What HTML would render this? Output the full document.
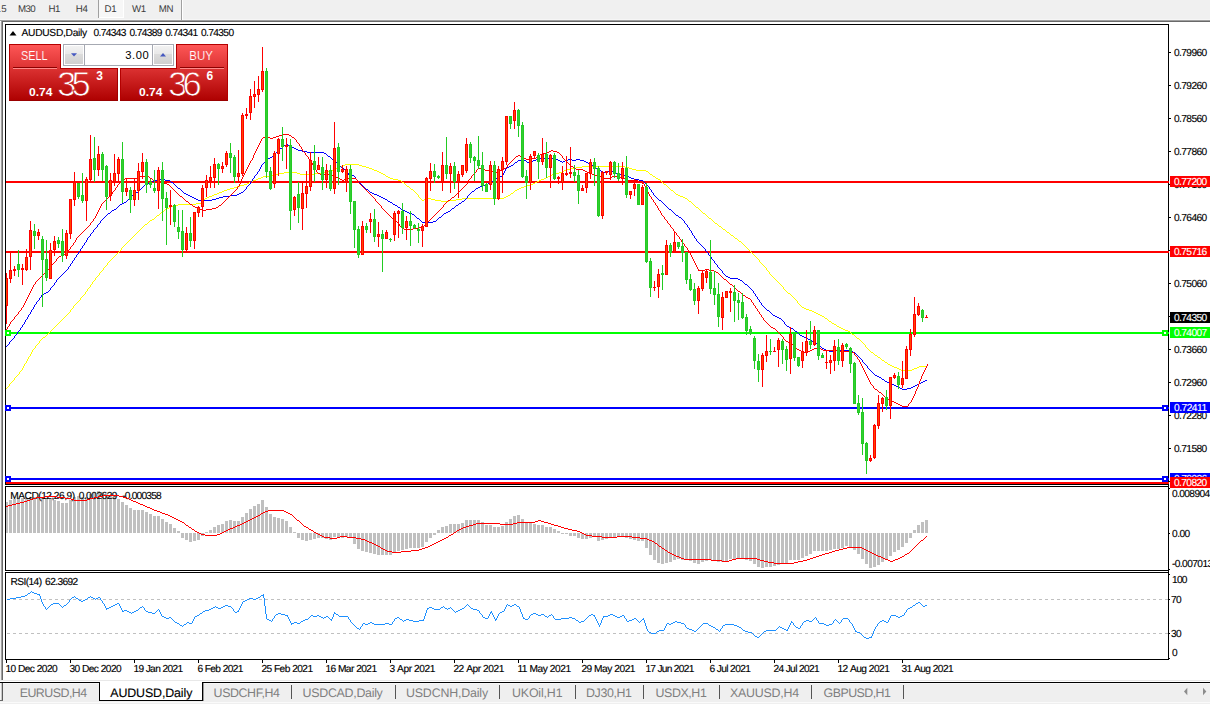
<!DOCTYPE html>
<html><head><meta charset="utf-8"><title>AUDUSD,Daily</title>
<style>
html,body{margin:0;padding:0;}
body{width:1210px;height:704px;overflow:hidden;background:#fff;position:relative;font-family:"Liberation Sans",sans-serif;}
.t{position:absolute;white-space:nowrap;line-height:1;text-rendering:geometricPrecision;-webkit-text-stroke:0.14px currentColor;}
.abs{position:absolute;}
#tb{left:0;top:0;width:1210px;height:20px;background:#f0f0f0;}
#tabs{left:0;top:683px;width:1210px;height:21px;background:#ececec;}
.tab{position:absolute;top:683px;height:18px;font-size:12.5px;line-height:18px;color:#808080;white-space:nowrap;}
</style></head><body>

<div class="abs" id="tb"></div>
<div class="abs" style="left:0;top:19px;width:1210px;height:1px;background:#f6f6f6"></div>
<div class="abs" style="left:0;top:20px;width:1210px;height:1px;background:#a0a0a0"></div>
<div class="abs" style="left:2px;top:21px;width:1208px;height:1px;background:#696969"></div>
<div class="abs" style="left:99px;top:0;width:25px;height:18px;background:#fff"></div>
<div class="abs" style="left:99px;top:0;width:24px;height:17px;background:#f7f7f7"></div>
<div class="abs" style="left:98px;top:0;width:1px;height:18px;background:#a0a0a0"></div>
<div class="abs" style="left:181px;top:0;width:1px;height:20px;background:#a0a0a0"></div>
<div class="abs" style="left:182px;top:0;width:1px;height:20px;background:#fff"></div>
<div class="abs" style="left:0;top:22px;width:1px;height:659px;background:#f0f0f0"></div>
<div class="abs" style="left:1px;top:20px;width:1px;height:661px;background:#a0a0a0"></div>
<div class="abs" style="left:2px;top:21px;width:1px;height:660px;background:#696969"></div>
<div class="abs" style="left:0;top:680px;width:1210px;height:1px;background:#e8e8e8"></div>
<div class="abs" style="left:0;top:683px;width:1210px;height:21px;background:#efefef"></div>
<div class="abs" style="left:0;top:683px;width:1210px;height:1px;background:#f7f7f7"></div>
<div class="abs" style="left:0;top:702px;width:1210px;height:1px;background:#fafafa"></div>
<div class="abs" style="left:0;top:682px;width:1210px;height:1px;background:#000"></div>
<div class="abs" style="left:0px;top:683px;width:1px;height:18px;background:#f6f6f6"></div>
<div class="abs" style="left:1px;top:683px;width:1px;height:18px;background:#c8c8c8"></div>
<div class="abs" style="left:2px;top:683px;width:1px;height:18px;background:#5a5a5a"></div>
<div class="abs" style="left:0px;top:700px;width:3px;height:1px;background:#6a6a6a"></div>
<div class="abs" style="left:99px;top:682px;width:104px;height:19px;background:#fff;border-left:1px solid #000;border-right:1px solid #000;border-bottom:1px solid #000;box-sizing:border-box"></div>
<div class="abs" style="left:203px;top:683px;width:1px;height:18px;background:#9a9a9a"></div>
<div class="abs" style="left:291px;top:685px;width:1px;height:14px;background:#555"></div>
<div class="abs" style="left:395px;top:685px;width:1px;height:14px;background:#555"></div>
<div class="abs" style="left:499px;top:685px;width:1px;height:14px;background:#555"></div>
<div class="abs" style="left:575px;top:685px;width:1px;height:14px;background:#555"></div>
<div class="abs" style="left:643px;top:685px;width:1px;height:14px;background:#555"></div>
<div class="abs" style="left:719px;top:685px;width:1px;height:14px;background:#555"></div>
<div class="abs" style="left:811px;top:685px;width:1px;height:14px;background:#555"></div>
<div class="abs" style="left:903px;top:685px;width:1px;height:14px;background:#555"></div>
<svg class="abs" style="left:1180px;top:684px" width="30" height="16" viewBox="1180 684 30 16"><polygon points="1184,691.5 1187.3,687.8 1187.3,695.2" fill="#8c8c8c"/><polygon points="1206.3,691.5 1203,687.8 1203,695.2" fill="#8c8c8c"/></svg>
<svg class="abs" style="left:0;top:0" width="1210" height="704" viewBox="0 0 1210 704" shape-rendering="crispEdges"><rect x="5" y="24" width="1164" height="1" fill="#000"/><rect x="5" y="24" width="1" height="636" fill="#000"/><rect x="1168" y="24" width="1" height="636" fill="#000"/><rect x="5" y="484" width="1164" height="1" fill="#000"/><rect x="5" y="486" width="1164" height="1" fill="#000"/><rect x="5" y="570" width="1164" height="1" fill="#000"/><rect x="5" y="572" width="1164" height="1" fill="#000"/><rect x="5" y="659" width="1164" height="1" fill="#000"/><rect x="5" y="485" width="1" height="1" fill="#fff"/><rect x="5" y="571" width="1" height="1" fill="#fff"/><rect x="1169" y="52" width="2" height="1" fill="#000"/><rect x="1169" y="85" width="2" height="1" fill="#000"/><rect x="1169" y="118" width="2" height="1" fill="#000"/><rect x="1169" y="151" width="2" height="1" fill="#000"/><rect x="1169" y="184" width="2" height="1" fill="#000"/><rect x="1169" y="217" width="2" height="1" fill="#000"/><rect x="1169" y="250" width="2" height="1" fill="#000"/><rect x="1169" y="283" width="2" height="1" fill="#000"/><rect x="1169" y="316" width="2" height="1" fill="#000"/><rect x="1169" y="349" width="2" height="1" fill="#000"/><rect x="1169" y="382" width="2" height="1" fill="#000"/><rect x="1169" y="415" width="2" height="1" fill="#000"/><rect x="1169" y="448" width="2" height="1" fill="#000"/><rect x="1169" y="481" width="1" height="1" fill="#000"/><rect x="6" y="181" width="1163" height="2" fill="#f00"/><rect x="6" y="251" width="1163" height="2" fill="#f00"/><rect x="6" y="332" width="1163" height="2" fill="#0f0"/><rect x="6" y="407" width="1163" height="2" fill="#00f"/><rect x="6" y="478" width="1163" height="2" fill="#00f"/><rect x="6" y="482" width="1163" height="2" fill="#f00"/><rect x="7" y="599" width="3" height="1" fill="#c0c0c0"/><rect x="13" y="599" width="3" height="1" fill="#c0c0c0"/><rect x="19" y="599" width="3" height="1" fill="#c0c0c0"/><rect x="25" y="599" width="3" height="1" fill="#c0c0c0"/><rect x="31" y="599" width="3" height="1" fill="#c0c0c0"/><rect x="37" y="599" width="3" height="1" fill="#c0c0c0"/><rect x="43" y="599" width="3" height="1" fill="#c0c0c0"/><rect x="49" y="599" width="3" height="1" fill="#c0c0c0"/><rect x="55" y="599" width="3" height="1" fill="#c0c0c0"/><rect x="61" y="599" width="3" height="1" fill="#c0c0c0"/><rect x="67" y="599" width="3" height="1" fill="#c0c0c0"/><rect x="73" y="599" width="3" height="1" fill="#c0c0c0"/><rect x="79" y="599" width="3" height="1" fill="#c0c0c0"/><rect x="85" y="599" width="3" height="1" fill="#c0c0c0"/><rect x="91" y="599" width="3" height="1" fill="#c0c0c0"/><rect x="97" y="599" width="3" height="1" fill="#c0c0c0"/><rect x="103" y="599" width="3" height="1" fill="#c0c0c0"/><rect x="109" y="599" width="3" height="1" fill="#c0c0c0"/><rect x="115" y="599" width="3" height="1" fill="#c0c0c0"/><rect x="121" y="599" width="3" height="1" fill="#c0c0c0"/><rect x="127" y="599" width="3" height="1" fill="#c0c0c0"/><rect x="133" y="599" width="3" height="1" fill="#c0c0c0"/><rect x="139" y="599" width="3" height="1" fill="#c0c0c0"/><rect x="145" y="599" width="3" height="1" fill="#c0c0c0"/><rect x="151" y="599" width="3" height="1" fill="#c0c0c0"/><rect x="157" y="599" width="3" height="1" fill="#c0c0c0"/><rect x="163" y="599" width="3" height="1" fill="#c0c0c0"/><rect x="169" y="599" width="3" height="1" fill="#c0c0c0"/><rect x="175" y="599" width="3" height="1" fill="#c0c0c0"/><rect x="181" y="599" width="3" height="1" fill="#c0c0c0"/><rect x="187" y="599" width="3" height="1" fill="#c0c0c0"/><rect x="193" y="599" width="3" height="1" fill="#c0c0c0"/><rect x="199" y="599" width="3" height="1" fill="#c0c0c0"/><rect x="205" y="599" width="3" height="1" fill="#c0c0c0"/><rect x="211" y="599" width="3" height="1" fill="#c0c0c0"/><rect x="217" y="599" width="3" height="1" fill="#c0c0c0"/><rect x="223" y="599" width="3" height="1" fill="#c0c0c0"/><rect x="229" y="599" width="3" height="1" fill="#c0c0c0"/><rect x="235" y="599" width="3" height="1" fill="#c0c0c0"/><rect x="241" y="599" width="3" height="1" fill="#c0c0c0"/><rect x="247" y="599" width="3" height="1" fill="#c0c0c0"/><rect x="253" y="599" width="3" height="1" fill="#c0c0c0"/><rect x="259" y="599" width="3" height="1" fill="#c0c0c0"/><rect x="265" y="599" width="3" height="1" fill="#c0c0c0"/><rect x="271" y="599" width="3" height="1" fill="#c0c0c0"/><rect x="277" y="599" width="3" height="1" fill="#c0c0c0"/><rect x="283" y="599" width="3" height="1" fill="#c0c0c0"/><rect x="289" y="599" width="3" height="1" fill="#c0c0c0"/><rect x="295" y="599" width="3" height="1" fill="#c0c0c0"/><rect x="301" y="599" width="3" height="1" fill="#c0c0c0"/><rect x="307" y="599" width="3" height="1" fill="#c0c0c0"/><rect x="313" y="599" width="3" height="1" fill="#c0c0c0"/><rect x="319" y="599" width="3" height="1" fill="#c0c0c0"/><rect x="325" y="599" width="3" height="1" fill="#c0c0c0"/><rect x="331" y="599" width="3" height="1" fill="#c0c0c0"/><rect x="337" y="599" width="3" height="1" fill="#c0c0c0"/><rect x="343" y="599" width="3" height="1" fill="#c0c0c0"/><rect x="349" y="599" width="3" height="1" fill="#c0c0c0"/><rect x="355" y="599" width="3" height="1" fill="#c0c0c0"/><rect x="361" y="599" width="3" height="1" fill="#c0c0c0"/><rect x="367" y="599" width="3" height="1" fill="#c0c0c0"/><rect x="373" y="599" width="3" height="1" fill="#c0c0c0"/><rect x="379" y="599" width="3" height="1" fill="#c0c0c0"/><rect x="385" y="599" width="3" height="1" fill="#c0c0c0"/><rect x="391" y="599" width="3" height="1" fill="#c0c0c0"/><rect x="397" y="599" width="3" height="1" fill="#c0c0c0"/><rect x="403" y="599" width="3" height="1" fill="#c0c0c0"/><rect x="409" y="599" width="3" height="1" fill="#c0c0c0"/><rect x="415" y="599" width="3" height="1" fill="#c0c0c0"/><rect x="421" y="599" width="3" height="1" fill="#c0c0c0"/><rect x="427" y="599" width="3" height="1" fill="#c0c0c0"/><rect x="433" y="599" width="3" height="1" fill="#c0c0c0"/><rect x="439" y="599" width="3" height="1" fill="#c0c0c0"/><rect x="445" y="599" width="3" height="1" fill="#c0c0c0"/><rect x="451" y="599" width="3" height="1" fill="#c0c0c0"/><rect x="457" y="599" width="3" height="1" fill="#c0c0c0"/><rect x="463" y="599" width="3" height="1" fill="#c0c0c0"/><rect x="469" y="599" width="3" height="1" fill="#c0c0c0"/><rect x="475" y="599" width="3" height="1" fill="#c0c0c0"/><rect x="481" y="599" width="3" height="1" fill="#c0c0c0"/><rect x="487" y="599" width="3" height="1" fill="#c0c0c0"/><rect x="493" y="599" width="3" height="1" fill="#c0c0c0"/><rect x="499" y="599" width="3" height="1" fill="#c0c0c0"/><rect x="505" y="599" width="3" height="1" fill="#c0c0c0"/><rect x="511" y="599" width="3" height="1" fill="#c0c0c0"/><rect x="517" y="599" width="3" height="1" fill="#c0c0c0"/><rect x="523" y="599" width="3" height="1" fill="#c0c0c0"/><rect x="529" y="599" width="3" height="1" fill="#c0c0c0"/><rect x="535" y="599" width="3" height="1" fill="#c0c0c0"/><rect x="541" y="599" width="3" height="1" fill="#c0c0c0"/><rect x="547" y="599" width="3" height="1" fill="#c0c0c0"/><rect x="553" y="599" width="3" height="1" fill="#c0c0c0"/><rect x="559" y="599" width="3" height="1" fill="#c0c0c0"/><rect x="565" y="599" width="3" height="1" fill="#c0c0c0"/><rect x="571" y="599" width="3" height="1" fill="#c0c0c0"/><rect x="577" y="599" width="3" height="1" fill="#c0c0c0"/><rect x="583" y="599" width="3" height="1" fill="#c0c0c0"/><rect x="589" y="599" width="3" height="1" fill="#c0c0c0"/><rect x="595" y="599" width="3" height="1" fill="#c0c0c0"/><rect x="601" y="599" width="3" height="1" fill="#c0c0c0"/><rect x="607" y="599" width="3" height="1" fill="#c0c0c0"/><rect x="613" y="599" width="3" height="1" fill="#c0c0c0"/><rect x="619" y="599" width="3" height="1" fill="#c0c0c0"/><rect x="625" y="599" width="3" height="1" fill="#c0c0c0"/><rect x="631" y="599" width="3" height="1" fill="#c0c0c0"/><rect x="637" y="599" width="3" height="1" fill="#c0c0c0"/><rect x="643" y="599" width="3" height="1" fill="#c0c0c0"/><rect x="649" y="599" width="3" height="1" fill="#c0c0c0"/><rect x="655" y="599" width="3" height="1" fill="#c0c0c0"/><rect x="661" y="599" width="3" height="1" fill="#c0c0c0"/><rect x="667" y="599" width="3" height="1" fill="#c0c0c0"/><rect x="673" y="599" width="3" height="1" fill="#c0c0c0"/><rect x="679" y="599" width="3" height="1" fill="#c0c0c0"/><rect x="685" y="599" width="3" height="1" fill="#c0c0c0"/><rect x="691" y="599" width="3" height="1" fill="#c0c0c0"/><rect x="697" y="599" width="3" height="1" fill="#c0c0c0"/><rect x="703" y="599" width="3" height="1" fill="#c0c0c0"/><rect x="709" y="599" width="3" height="1" fill="#c0c0c0"/><rect x="715" y="599" width="3" height="1" fill="#c0c0c0"/><rect x="721" y="599" width="3" height="1" fill="#c0c0c0"/><rect x="727" y="599" width="3" height="1" fill="#c0c0c0"/><rect x="733" y="599" width="3" height="1" fill="#c0c0c0"/><rect x="739" y="599" width="3" height="1" fill="#c0c0c0"/><rect x="745" y="599" width="3" height="1" fill="#c0c0c0"/><rect x="751" y="599" width="3" height="1" fill="#c0c0c0"/><rect x="757" y="599" width="3" height="1" fill="#c0c0c0"/><rect x="763" y="599" width="3" height="1" fill="#c0c0c0"/><rect x="769" y="599" width="3" height="1" fill="#c0c0c0"/><rect x="775" y="599" width="3" height="1" fill="#c0c0c0"/><rect x="781" y="599" width="3" height="1" fill="#c0c0c0"/><rect x="787" y="599" width="3" height="1" fill="#c0c0c0"/><rect x="793" y="599" width="3" height="1" fill="#c0c0c0"/><rect x="799" y="599" width="3" height="1" fill="#c0c0c0"/><rect x="805" y="599" width="3" height="1" fill="#c0c0c0"/><rect x="811" y="599" width="3" height="1" fill="#c0c0c0"/><rect x="817" y="599" width="3" height="1" fill="#c0c0c0"/><rect x="823" y="599" width="3" height="1" fill="#c0c0c0"/><rect x="829" y="599" width="3" height="1" fill="#c0c0c0"/><rect x="835" y="599" width="3" height="1" fill="#c0c0c0"/><rect x="841" y="599" width="3" height="1" fill="#c0c0c0"/><rect x="847" y="599" width="3" height="1" fill="#c0c0c0"/><rect x="853" y="599" width="3" height="1" fill="#c0c0c0"/><rect x="859" y="599" width="3" height="1" fill="#c0c0c0"/><rect x="865" y="599" width="3" height="1" fill="#c0c0c0"/><rect x="871" y="599" width="3" height="1" fill="#c0c0c0"/><rect x="877" y="599" width="3" height="1" fill="#c0c0c0"/><rect x="883" y="599" width="3" height="1" fill="#c0c0c0"/><rect x="889" y="599" width="3" height="1" fill="#c0c0c0"/><rect x="895" y="599" width="3" height="1" fill="#c0c0c0"/><rect x="901" y="599" width="3" height="1" fill="#c0c0c0"/><rect x="907" y="599" width="3" height="1" fill="#c0c0c0"/><rect x="913" y="599" width="3" height="1" fill="#c0c0c0"/><rect x="919" y="599" width="3" height="1" fill="#c0c0c0"/><rect x="925" y="599" width="3" height="1" fill="#c0c0c0"/><rect x="931" y="599" width="3" height="1" fill="#c0c0c0"/><rect x="937" y="599" width="3" height="1" fill="#c0c0c0"/><rect x="943" y="599" width="3" height="1" fill="#c0c0c0"/><rect x="949" y="599" width="3" height="1" fill="#c0c0c0"/><rect x="955" y="599" width="3" height="1" fill="#c0c0c0"/><rect x="961" y="599" width="3" height="1" fill="#c0c0c0"/><rect x="967" y="599" width="3" height="1" fill="#c0c0c0"/><rect x="973" y="599" width="3" height="1" fill="#c0c0c0"/><rect x="979" y="599" width="3" height="1" fill="#c0c0c0"/><rect x="985" y="599" width="3" height="1" fill="#c0c0c0"/><rect x="991" y="599" width="3" height="1" fill="#c0c0c0"/><rect x="997" y="599" width="3" height="1" fill="#c0c0c0"/><rect x="1003" y="599" width="3" height="1" fill="#c0c0c0"/><rect x="1009" y="599" width="3" height="1" fill="#c0c0c0"/><rect x="1015" y="599" width="3" height="1" fill="#c0c0c0"/><rect x="1021" y="599" width="3" height="1" fill="#c0c0c0"/><rect x="1027" y="599" width="3" height="1" fill="#c0c0c0"/><rect x="1033" y="599" width="3" height="1" fill="#c0c0c0"/><rect x="1039" y="599" width="3" height="1" fill="#c0c0c0"/><rect x="1045" y="599" width="3" height="1" fill="#c0c0c0"/><rect x="1051" y="599" width="3" height="1" fill="#c0c0c0"/><rect x="1057" y="599" width="3" height="1" fill="#c0c0c0"/><rect x="1063" y="599" width="3" height="1" fill="#c0c0c0"/><rect x="1069" y="599" width="3" height="1" fill="#c0c0c0"/><rect x="1075" y="599" width="3" height="1" fill="#c0c0c0"/><rect x="1081" y="599" width="3" height="1" fill="#c0c0c0"/><rect x="1087" y="599" width="3" height="1" fill="#c0c0c0"/><rect x="1093" y="599" width="3" height="1" fill="#c0c0c0"/><rect x="1099" y="599" width="3" height="1" fill="#c0c0c0"/><rect x="1105" y="599" width="3" height="1" fill="#c0c0c0"/><rect x="1111" y="599" width="3" height="1" fill="#c0c0c0"/><rect x="1117" y="599" width="3" height="1" fill="#c0c0c0"/><rect x="1123" y="599" width="3" height="1" fill="#c0c0c0"/><rect x="1129" y="599" width="3" height="1" fill="#c0c0c0"/><rect x="1135" y="599" width="3" height="1" fill="#c0c0c0"/><rect x="1141" y="599" width="3" height="1" fill="#c0c0c0"/><rect x="1147" y="599" width="3" height="1" fill="#c0c0c0"/><rect x="1153" y="599" width="3" height="1" fill="#c0c0c0"/><rect x="1159" y="599" width="3" height="1" fill="#c0c0c0"/><rect x="1165" y="599" width="3" height="1" fill="#c0c0c0"/><rect x="7" y="633" width="3" height="1" fill="#c0c0c0"/><rect x="13" y="633" width="3" height="1" fill="#c0c0c0"/><rect x="19" y="633" width="3" height="1" fill="#c0c0c0"/><rect x="25" y="633" width="3" height="1" fill="#c0c0c0"/><rect x="31" y="633" width="3" height="1" fill="#c0c0c0"/><rect x="37" y="633" width="3" height="1" fill="#c0c0c0"/><rect x="43" y="633" width="3" height="1" fill="#c0c0c0"/><rect x="49" y="633" width="3" height="1" fill="#c0c0c0"/><rect x="55" y="633" width="3" height="1" fill="#c0c0c0"/><rect x="61" y="633" width="3" height="1" fill="#c0c0c0"/><rect x="67" y="633" width="3" height="1" fill="#c0c0c0"/><rect x="73" y="633" width="3" height="1" fill="#c0c0c0"/><rect x="79" y="633" width="3" height="1" fill="#c0c0c0"/><rect x="85" y="633" width="3" height="1" fill="#c0c0c0"/><rect x="91" y="633" width="3" height="1" fill="#c0c0c0"/><rect x="97" y="633" width="3" height="1" fill="#c0c0c0"/><rect x="103" y="633" width="3" height="1" fill="#c0c0c0"/><rect x="109" y="633" width="3" height="1" fill="#c0c0c0"/><rect x="115" y="633" width="3" height="1" fill="#c0c0c0"/><rect x="121" y="633" width="3" height="1" fill="#c0c0c0"/><rect x="127" y="633" width="3" height="1" fill="#c0c0c0"/><rect x="133" y="633" width="3" height="1" fill="#c0c0c0"/><rect x="139" y="633" width="3" height="1" fill="#c0c0c0"/><rect x="145" y="633" width="3" height="1" fill="#c0c0c0"/><rect x="151" y="633" width="3" height="1" fill="#c0c0c0"/><rect x="157" y="633" width="3" height="1" fill="#c0c0c0"/><rect x="163" y="633" width="3" height="1" fill="#c0c0c0"/><rect x="169" y="633" width="3" height="1" fill="#c0c0c0"/><rect x="175" y="633" width="3" height="1" fill="#c0c0c0"/><rect x="181" y="633" width="3" height="1" fill="#c0c0c0"/><rect x="187" y="633" width="3" height="1" fill="#c0c0c0"/><rect x="193" y="633" width="3" height="1" fill="#c0c0c0"/><rect x="199" y="633" width="3" height="1" fill="#c0c0c0"/><rect x="205" y="633" width="3" height="1" fill="#c0c0c0"/><rect x="211" y="633" width="3" height="1" fill="#c0c0c0"/><rect x="217" y="633" width="3" height="1" fill="#c0c0c0"/><rect x="223" y="633" width="3" height="1" fill="#c0c0c0"/><rect x="229" y="633" width="3" height="1" fill="#c0c0c0"/><rect x="235" y="633" width="3" height="1" fill="#c0c0c0"/><rect x="241" y="633" width="3" height="1" fill="#c0c0c0"/><rect x="247" y="633" width="3" height="1" fill="#c0c0c0"/><rect x="253" y="633" width="3" height="1" fill="#c0c0c0"/><rect x="259" y="633" width="3" height="1" fill="#c0c0c0"/><rect x="265" y="633" width="3" height="1" fill="#c0c0c0"/><rect x="271" y="633" width="3" height="1" fill="#c0c0c0"/><rect x="277" y="633" width="3" height="1" fill="#c0c0c0"/><rect x="283" y="633" width="3" height="1" fill="#c0c0c0"/><rect x="289" y="633" width="3" height="1" fill="#c0c0c0"/><rect x="295" y="633" width="3" height="1" fill="#c0c0c0"/><rect x="301" y="633" width="3" height="1" fill="#c0c0c0"/><rect x="307" y="633" width="3" height="1" fill="#c0c0c0"/><rect x="313" y="633" width="3" height="1" fill="#c0c0c0"/><rect x="319" y="633" width="3" height="1" fill="#c0c0c0"/><rect x="325" y="633" width="3" height="1" fill="#c0c0c0"/><rect x="331" y="633" width="3" height="1" fill="#c0c0c0"/><rect x="337" y="633" width="3" height="1" fill="#c0c0c0"/><rect x="343" y="633" width="3" height="1" fill="#c0c0c0"/><rect x="349" y="633" width="3" height="1" fill="#c0c0c0"/><rect x="355" y="633" width="3" height="1" fill="#c0c0c0"/><rect x="361" y="633" width="3" height="1" fill="#c0c0c0"/><rect x="367" y="633" width="3" height="1" fill="#c0c0c0"/><rect x="373" y="633" width="3" height="1" fill="#c0c0c0"/><rect x="379" y="633" width="3" height="1" fill="#c0c0c0"/><rect x="385" y="633" width="3" height="1" fill="#c0c0c0"/><rect x="391" y="633" width="3" height="1" fill="#c0c0c0"/><rect x="397" y="633" width="3" height="1" fill="#c0c0c0"/><rect x="403" y="633" width="3" height="1" fill="#c0c0c0"/><rect x="409" y="633" width="3" height="1" fill="#c0c0c0"/><rect x="415" y="633" width="3" height="1" fill="#c0c0c0"/><rect x="421" y="633" width="3" height="1" fill="#c0c0c0"/><rect x="427" y="633" width="3" height="1" fill="#c0c0c0"/><rect x="433" y="633" width="3" height="1" fill="#c0c0c0"/><rect x="439" y="633" width="3" height="1" fill="#c0c0c0"/><rect x="445" y="633" width="3" height="1" fill="#c0c0c0"/><rect x="451" y="633" width="3" height="1" fill="#c0c0c0"/><rect x="457" y="633" width="3" height="1" fill="#c0c0c0"/><rect x="463" y="633" width="3" height="1" fill="#c0c0c0"/><rect x="469" y="633" width="3" height="1" fill="#c0c0c0"/><rect x="475" y="633" width="3" height="1" fill="#c0c0c0"/><rect x="481" y="633" width="3" height="1" fill="#c0c0c0"/><rect x="487" y="633" width="3" height="1" fill="#c0c0c0"/><rect x="493" y="633" width="3" height="1" fill="#c0c0c0"/><rect x="499" y="633" width="3" height="1" fill="#c0c0c0"/><rect x="505" y="633" width="3" height="1" fill="#c0c0c0"/><rect x="511" y="633" width="3" height="1" fill="#c0c0c0"/><rect x="517" y="633" width="3" height="1" fill="#c0c0c0"/><rect x="523" y="633" width="3" height="1" fill="#c0c0c0"/><rect x="529" y="633" width="3" height="1" fill="#c0c0c0"/><rect x="535" y="633" width="3" height="1" fill="#c0c0c0"/><rect x="541" y="633" width="3" height="1" fill="#c0c0c0"/><rect x="547" y="633" width="3" height="1" fill="#c0c0c0"/><rect x="553" y="633" width="3" height="1" fill="#c0c0c0"/><rect x="559" y="633" width="3" height="1" fill="#c0c0c0"/><rect x="565" y="633" width="3" height="1" fill="#c0c0c0"/><rect x="571" y="633" width="3" height="1" fill="#c0c0c0"/><rect x="577" y="633" width="3" height="1" fill="#c0c0c0"/><rect x="583" y="633" width="3" height="1" fill="#c0c0c0"/><rect x="589" y="633" width="3" height="1" fill="#c0c0c0"/><rect x="595" y="633" width="3" height="1" fill="#c0c0c0"/><rect x="601" y="633" width="3" height="1" fill="#c0c0c0"/><rect x="607" y="633" width="3" height="1" fill="#c0c0c0"/><rect x="613" y="633" width="3" height="1" fill="#c0c0c0"/><rect x="619" y="633" width="3" height="1" fill="#c0c0c0"/><rect x="625" y="633" width="3" height="1" fill="#c0c0c0"/><rect x="631" y="633" width="3" height="1" fill="#c0c0c0"/><rect x="637" y="633" width="3" height="1" fill="#c0c0c0"/><rect x="643" y="633" width="3" height="1" fill="#c0c0c0"/><rect x="649" y="633" width="3" height="1" fill="#c0c0c0"/><rect x="655" y="633" width="3" height="1" fill="#c0c0c0"/><rect x="661" y="633" width="3" height="1" fill="#c0c0c0"/><rect x="667" y="633" width="3" height="1" fill="#c0c0c0"/><rect x="673" y="633" width="3" height="1" fill="#c0c0c0"/><rect x="679" y="633" width="3" height="1" fill="#c0c0c0"/><rect x="685" y="633" width="3" height="1" fill="#c0c0c0"/><rect x="691" y="633" width="3" height="1" fill="#c0c0c0"/><rect x="697" y="633" width="3" height="1" fill="#c0c0c0"/><rect x="703" y="633" width="3" height="1" fill="#c0c0c0"/><rect x="709" y="633" width="3" height="1" fill="#c0c0c0"/><rect x="715" y="633" width="3" height="1" fill="#c0c0c0"/><rect x="721" y="633" width="3" height="1" fill="#c0c0c0"/><rect x="727" y="633" width="3" height="1" fill="#c0c0c0"/><rect x="733" y="633" width="3" height="1" fill="#c0c0c0"/><rect x="739" y="633" width="3" height="1" fill="#c0c0c0"/><rect x="745" y="633" width="3" height="1" fill="#c0c0c0"/><rect x="751" y="633" width="3" height="1" fill="#c0c0c0"/><rect x="757" y="633" width="3" height="1" fill="#c0c0c0"/><rect x="763" y="633" width="3" height="1" fill="#c0c0c0"/><rect x="769" y="633" width="3" height="1" fill="#c0c0c0"/><rect x="775" y="633" width="3" height="1" fill="#c0c0c0"/><rect x="781" y="633" width="3" height="1" fill="#c0c0c0"/><rect x="787" y="633" width="3" height="1" fill="#c0c0c0"/><rect x="793" y="633" width="3" height="1" fill="#c0c0c0"/><rect x="799" y="633" width="3" height="1" fill="#c0c0c0"/><rect x="805" y="633" width="3" height="1" fill="#c0c0c0"/><rect x="811" y="633" width="3" height="1" fill="#c0c0c0"/><rect x="817" y="633" width="3" height="1" fill="#c0c0c0"/><rect x="823" y="633" width="3" height="1" fill="#c0c0c0"/><rect x="829" y="633" width="3" height="1" fill="#c0c0c0"/><rect x="835" y="633" width="3" height="1" fill="#c0c0c0"/><rect x="841" y="633" width="3" height="1" fill="#c0c0c0"/><rect x="847" y="633" width="3" height="1" fill="#c0c0c0"/><rect x="853" y="633" width="3" height="1" fill="#c0c0c0"/><rect x="859" y="633" width="3" height="1" fill="#c0c0c0"/><rect x="865" y="633" width="3" height="1" fill="#c0c0c0"/><rect x="871" y="633" width="3" height="1" fill="#c0c0c0"/><rect x="877" y="633" width="3" height="1" fill="#c0c0c0"/><rect x="883" y="633" width="3" height="1" fill="#c0c0c0"/><rect x="889" y="633" width="3" height="1" fill="#c0c0c0"/><rect x="895" y="633" width="3" height="1" fill="#c0c0c0"/><rect x="901" y="633" width="3" height="1" fill="#c0c0c0"/><rect x="907" y="633" width="3" height="1" fill="#c0c0c0"/><rect x="913" y="633" width="3" height="1" fill="#c0c0c0"/><rect x="919" y="633" width="3" height="1" fill="#c0c0c0"/><rect x="925" y="633" width="3" height="1" fill="#c0c0c0"/><rect x="931" y="633" width="3" height="1" fill="#c0c0c0"/><rect x="937" y="633" width="3" height="1" fill="#c0c0c0"/><rect x="943" y="633" width="3" height="1" fill="#c0c0c0"/><rect x="949" y="633" width="3" height="1" fill="#c0c0c0"/><rect x="955" y="633" width="3" height="1" fill="#c0c0c0"/><rect x="961" y="633" width="3" height="1" fill="#c0c0c0"/><rect x="967" y="633" width="3" height="1" fill="#c0c0c0"/><rect x="973" y="633" width="3" height="1" fill="#c0c0c0"/><rect x="979" y="633" width="3" height="1" fill="#c0c0c0"/><rect x="985" y="633" width="3" height="1" fill="#c0c0c0"/><rect x="991" y="633" width="3" height="1" fill="#c0c0c0"/><rect x="997" y="633" width="3" height="1" fill="#c0c0c0"/><rect x="1003" y="633" width="3" height="1" fill="#c0c0c0"/><rect x="1009" y="633" width="3" height="1" fill="#c0c0c0"/><rect x="1015" y="633" width="3" height="1" fill="#c0c0c0"/><rect x="1021" y="633" width="3" height="1" fill="#c0c0c0"/><rect x="1027" y="633" width="3" height="1" fill="#c0c0c0"/><rect x="1033" y="633" width="3" height="1" fill="#c0c0c0"/><rect x="1039" y="633" width="3" height="1" fill="#c0c0c0"/><rect x="1045" y="633" width="3" height="1" fill="#c0c0c0"/><rect x="1051" y="633" width="3" height="1" fill="#c0c0c0"/><rect x="1057" y="633" width="3" height="1" fill="#c0c0c0"/><rect x="1063" y="633" width="3" height="1" fill="#c0c0c0"/><rect x="1069" y="633" width="3" height="1" fill="#c0c0c0"/><rect x="1075" y="633" width="3" height="1" fill="#c0c0c0"/><rect x="1081" y="633" width="3" height="1" fill="#c0c0c0"/><rect x="1087" y="633" width="3" height="1" fill="#c0c0c0"/><rect x="1093" y="633" width="3" height="1" fill="#c0c0c0"/><rect x="1099" y="633" width="3" height="1" fill="#c0c0c0"/><rect x="1105" y="633" width="3" height="1" fill="#c0c0c0"/><rect x="1111" y="633" width="3" height="1" fill="#c0c0c0"/><rect x="1117" y="633" width="3" height="1" fill="#c0c0c0"/><rect x="1123" y="633" width="3" height="1" fill="#c0c0c0"/><rect x="1129" y="633" width="3" height="1" fill="#c0c0c0"/><rect x="1135" y="633" width="3" height="1" fill="#c0c0c0"/><rect x="1141" y="633" width="3" height="1" fill="#c0c0c0"/><rect x="1147" y="633" width="3" height="1" fill="#c0c0c0"/><rect x="1153" y="633" width="3" height="1" fill="#c0c0c0"/><rect x="1159" y="633" width="3" height="1" fill="#c0c0c0"/><rect x="1165" y="633" width="3" height="1" fill="#c0c0c0"/><rect x="6" y="502" width="2" height="31" fill="#c0c0c0"/><rect x="9" y="500" width="3" height="33" fill="#c0c0c0"/><rect x="13" y="499" width="3" height="34" fill="#c0c0c0"/><rect x="17" y="498" width="3" height="35" fill="#c0c0c0"/><rect x="21" y="498" width="3" height="35" fill="#c0c0c0"/><rect x="25" y="498" width="3" height="35" fill="#c0c0c0"/><rect x="29" y="497" width="3" height="36" fill="#c0c0c0"/><rect x="33" y="497" width="3" height="36" fill="#c0c0c0"/><rect x="37" y="497" width="3" height="36" fill="#c0c0c0"/><rect x="41" y="497" width="3" height="36" fill="#c0c0c0"/><rect x="45" y="498" width="3" height="35" fill="#c0c0c0"/><rect x="49" y="499" width="3" height="34" fill="#c0c0c0"/><rect x="53" y="500" width="3" height="33" fill="#c0c0c0"/><rect x="57" y="501" width="3" height="32" fill="#c0c0c0"/><rect x="61" y="503" width="3" height="30" fill="#c0c0c0"/><rect x="65" y="503" width="3" height="30" fill="#c0c0c0"/><rect x="69" y="500" width="3" height="33" fill="#c0c0c0"/><rect x="73" y="497" width="3" height="36" fill="#c0c0c0"/><rect x="77" y="496" width="3" height="37" fill="#c0c0c0"/><rect x="81" y="497" width="3" height="36" fill="#c0c0c0"/><rect x="85" y="497" width="3" height="36" fill="#c0c0c0"/><rect x="89" y="494" width="3" height="39" fill="#c0c0c0"/><rect x="93" y="492" width="3" height="41" fill="#c0c0c0"/><rect x="97" y="491" width="3" height="42" fill="#c0c0c0"/><rect x="101" y="492" width="3" height="41" fill="#c0c0c0"/><rect x="105" y="494" width="3" height="39" fill="#c0c0c0"/><rect x="109" y="496" width="3" height="37" fill="#c0c0c0"/><rect x="113" y="497" width="3" height="36" fill="#c0c0c0"/><rect x="117" y="499" width="3" height="34" fill="#c0c0c0"/><rect x="121" y="502" width="3" height="31" fill="#c0c0c0"/><rect x="125" y="505" width="3" height="28" fill="#c0c0c0"/><rect x="129" y="508" width="3" height="25" fill="#c0c0c0"/><rect x="133" y="510" width="3" height="23" fill="#c0c0c0"/><rect x="137" y="510" width="3" height="23" fill="#c0c0c0"/><rect x="141" y="510" width="3" height="23" fill="#c0c0c0"/><rect x="145" y="512" width="3" height="21" fill="#c0c0c0"/><rect x="149" y="514" width="3" height="19" fill="#c0c0c0"/><rect x="153" y="516" width="3" height="17" fill="#c0c0c0"/><rect x="157" y="516" width="3" height="17" fill="#c0c0c0"/><rect x="161" y="519" width="3" height="14" fill="#c0c0c0"/><rect x="165" y="522" width="3" height="11" fill="#c0c0c0"/><rect x="169" y="524" width="3" height="9" fill="#c0c0c0"/><rect x="173" y="528" width="3" height="5" fill="#c0c0c0"/><rect x="177" y="531" width="3" height="2" fill="#c0c0c0"/><rect x="181" y="533" width="3" height="5" fill="#c0c0c0"/><rect x="185" y="533" width="3" height="7" fill="#c0c0c0"/><rect x="189" y="533" width="3" height="9" fill="#c0c0c0"/><rect x="193" y="533" width="3" height="8" fill="#c0c0c0"/><rect x="197" y="533" width="3" height="7" fill="#c0c0c0"/><rect x="201" y="533" width="3" height="3" fill="#c0c0c0"/><rect x="205" y="532" width="3" height="1" fill="#c0c0c0"/><rect x="209" y="530" width="3" height="3" fill="#c0c0c0"/><rect x="213" y="527" width="3" height="6" fill="#c0c0c0"/><rect x="217" y="525" width="3" height="8" fill="#c0c0c0"/><rect x="221" y="524" width="3" height="9" fill="#c0c0c0"/><rect x="225" y="521" width="3" height="12" fill="#c0c0c0"/><rect x="229" y="520" width="3" height="13" fill="#c0c0c0"/><rect x="233" y="521" width="3" height="12" fill="#c0c0c0"/><rect x="237" y="521" width="3" height="12" fill="#c0c0c0"/><rect x="241" y="517" width="3" height="16" fill="#c0c0c0"/><rect x="245" y="513" width="3" height="20" fill="#c0c0c0"/><rect x="249" y="509" width="3" height="24" fill="#c0c0c0"/><rect x="253" y="506" width="3" height="27" fill="#c0c0c0"/><rect x="257" y="504" width="3" height="29" fill="#c0c0c0"/><rect x="261" y="500" width="3" height="33" fill="#c0c0c0"/><rect x="265" y="507" width="3" height="26" fill="#c0c0c0"/><rect x="269" y="514" width="3" height="19" fill="#c0c0c0"/><rect x="273" y="517" width="3" height="16" fill="#c0c0c0"/><rect x="277" y="518" width="3" height="15" fill="#c0c0c0"/><rect x="281" y="519" width="3" height="14" fill="#c0c0c0"/><rect x="285" y="521" width="3" height="12" fill="#c0c0c0"/><rect x="289" y="527" width="3" height="6" fill="#c0c0c0"/><rect x="293" y="532" width="3" height="1" fill="#c0c0c0"/><rect x="297" y="533" width="3" height="5" fill="#c0c0c0"/><rect x="301" y="533" width="3" height="7" fill="#c0c0c0"/><rect x="305" y="533" width="3" height="8" fill="#c0c0c0"/><rect x="309" y="533" width="3" height="7" fill="#c0c0c0"/><rect x="313" y="533" width="3" height="6" fill="#c0c0c0"/><rect x="317" y="533" width="3" height="5" fill="#c0c0c0"/><rect x="321" y="533" width="3" height="5" fill="#c0c0c0"/><rect x="325" y="533" width="3" height="6" fill="#c0c0c0"/><rect x="329" y="533" width="3" height="7" fill="#c0c0c0"/><rect x="333" y="533" width="3" height="4" fill="#c0c0c0"/><rect x="337" y="533" width="3" height="4" fill="#c0c0c0"/><rect x="341" y="533" width="3" height="5" fill="#c0c0c0"/><rect x="345" y="533" width="3" height="4" fill="#c0c0c0"/><rect x="349" y="533" width="3" height="5" fill="#c0c0c0"/><rect x="353" y="533" width="3" height="11" fill="#c0c0c0"/><rect x="357" y="533" width="3" height="16" fill="#c0c0c0"/><rect x="361" y="533" width="3" height="18" fill="#c0c0c0"/><rect x="365" y="533" width="3" height="19" fill="#c0c0c0"/><rect x="369" y="533" width="3" height="20" fill="#c0c0c0"/><rect x="373" y="533" width="3" height="21" fill="#c0c0c0"/><rect x="377" y="533" width="3" height="22" fill="#c0c0c0"/><rect x="381" y="533" width="3" height="22" fill="#c0c0c0"/><rect x="385" y="533" width="3" height="22" fill="#c0c0c0"/><rect x="389" y="533" width="3" height="22" fill="#c0c0c0"/><rect x="393" y="533" width="3" height="20" fill="#c0c0c0"/><rect x="397" y="533" width="3" height="18" fill="#c0c0c0"/><rect x="401" y="533" width="3" height="17" fill="#c0c0c0"/><rect x="405" y="533" width="3" height="16" fill="#c0c0c0"/><rect x="409" y="533" width="3" height="15" fill="#c0c0c0"/><rect x="413" y="533" width="3" height="15" fill="#c0c0c0"/><rect x="417" y="533" width="3" height="15" fill="#c0c0c0"/><rect x="421" y="533" width="3" height="14" fill="#c0c0c0"/><rect x="425" y="533" width="3" height="9" fill="#c0c0c0"/><rect x="429" y="533" width="3" height="5" fill="#c0c0c0"/><rect x="433" y="533" width="3" height="2" fill="#c0c0c0"/><rect x="437" y="530" width="3" height="3" fill="#c0c0c0"/><rect x="441" y="527" width="3" height="6" fill="#c0c0c0"/><rect x="445" y="526" width="3" height="7" fill="#c0c0c0"/><rect x="449" y="524" width="3" height="9" fill="#c0c0c0"/><rect x="453" y="524" width="3" height="9" fill="#c0c0c0"/><rect x="457" y="524" width="3" height="9" fill="#c0c0c0"/><rect x="461" y="523" width="3" height="10" fill="#c0c0c0"/><rect x="465" y="520" width="3" height="13" fill="#c0c0c0"/><rect x="469" y="520" width="3" height="13" fill="#c0c0c0"/><rect x="473" y="520" width="3" height="13" fill="#c0c0c0"/><rect x="477" y="520" width="3" height="13" fill="#c0c0c0"/><rect x="481" y="522" width="3" height="11" fill="#c0c0c0"/><rect x="485" y="525" width="3" height="8" fill="#c0c0c0"/><rect x="489" y="525" width="3" height="8" fill="#c0c0c0"/><rect x="493" y="527" width="3" height="6" fill="#c0c0c0"/><rect x="497" y="527" width="3" height="6" fill="#c0c0c0"/><rect x="501" y="526" width="3" height="7" fill="#c0c0c0"/><rect x="505" y="522" width="3" height="11" fill="#c0c0c0"/><rect x="509" y="519" width="3" height="14" fill="#c0c0c0"/><rect x="513" y="516" width="3" height="17" fill="#c0c0c0"/><rect x="517" y="515" width="3" height="18" fill="#c0c0c0"/><rect x="521" y="519" width="3" height="14" fill="#c0c0c0"/><rect x="525" y="522" width="3" height="11" fill="#c0c0c0"/><rect x="529" y="523" width="3" height="10" fill="#c0c0c0"/><rect x="533" y="524" width="3" height="9" fill="#c0c0c0"/><rect x="537" y="525" width="3" height="8" fill="#c0c0c0"/><rect x="541" y="525" width="3" height="8" fill="#c0c0c0"/><rect x="545" y="527" width="3" height="6" fill="#c0c0c0"/><rect x="549" y="527" width="3" height="6" fill="#c0c0c0"/><rect x="553" y="529" width="3" height="4" fill="#c0c0c0"/><rect x="557" y="531" width="3" height="2" fill="#c0c0c0"/><rect x="561" y="533" width="3" height="1" fill="#c0c0c0"/><rect x="565" y="533" width="3" height="1" fill="#c0c0c0"/><rect x="569" y="533" width="3" height="3" fill="#c0c0c0"/><rect x="573" y="533" width="3" height="3" fill="#c0c0c0"/><rect x="577" y="533" width="3" height="5" fill="#c0c0c0"/><rect x="581" y="533" width="3" height="6" fill="#c0c0c0"/><rect x="585" y="533" width="3" height="6" fill="#c0c0c0"/><rect x="589" y="533" width="3" height="5" fill="#c0c0c0"/><rect x="593" y="533" width="3" height="4" fill="#c0c0c0"/><rect x="597" y="533" width="3" height="8" fill="#c0c0c0"/><rect x="601" y="533" width="3" height="7" fill="#c0c0c0"/><rect x="605" y="533" width="3" height="6" fill="#c0c0c0"/><rect x="609" y="533" width="3" height="5" fill="#c0c0c0"/><rect x="613" y="533" width="3" height="4" fill="#c0c0c0"/><rect x="617" y="533" width="3" height="4" fill="#c0c0c0"/><rect x="621" y="533" width="3" height="4" fill="#c0c0c0"/><rect x="625" y="533" width="3" height="5" fill="#c0c0c0"/><rect x="629" y="533" width="3" height="6" fill="#c0c0c0"/><rect x="633" y="533" width="3" height="7" fill="#c0c0c0"/><rect x="637" y="533" width="3" height="8" fill="#c0c0c0"/><rect x="641" y="533" width="3" height="8" fill="#c0c0c0"/><rect x="645" y="533" width="3" height="15" fill="#c0c0c0"/><rect x="649" y="533" width="3" height="22" fill="#c0c0c0"/><rect x="653" y="533" width="3" height="27" fill="#c0c0c0"/><rect x="657" y="533" width="3" height="30" fill="#c0c0c0"/><rect x="661" y="533" width="3" height="31" fill="#c0c0c0"/><rect x="665" y="533" width="3" height="30" fill="#c0c0c0"/><rect x="669" y="533" width="3" height="29" fill="#c0c0c0"/><rect x="673" y="533" width="3" height="27" fill="#c0c0c0"/><rect x="677" y="533" width="3" height="26" fill="#c0c0c0"/><rect x="681" y="533" width="3" height="27" fill="#c0c0c0"/><rect x="685" y="533" width="3" height="27" fill="#c0c0c0"/><rect x="689" y="533" width="3" height="28" fill="#c0c0c0"/><rect x="693" y="533" width="3" height="30" fill="#c0c0c0"/><rect x="697" y="533" width="3" height="31" fill="#c0c0c0"/><rect x="701" y="533" width="3" height="29" fill="#c0c0c0"/><rect x="705" y="533" width="3" height="28" fill="#c0c0c0"/><rect x="709" y="533" width="3" height="27" fill="#c0c0c0"/><rect x="713" y="533" width="3" height="27" fill="#c0c0c0"/><rect x="717" y="533" width="3" height="29" fill="#c0c0c0"/><rect x="721" y="533" width="3" height="29" fill="#c0c0c0"/><rect x="725" y="533" width="3" height="29" fill="#c0c0c0"/><rect x="729" y="533" width="3" height="26" fill="#c0c0c0"/><rect x="733" y="533" width="3" height="26" fill="#c0c0c0"/><rect x="737" y="533" width="3" height="25" fill="#c0c0c0"/><rect x="741" y="533" width="3" height="26" fill="#c0c0c0"/><rect x="745" y="533" width="3" height="27" fill="#c0c0c0"/><rect x="749" y="533" width="3" height="28" fill="#c0c0c0"/><rect x="753" y="533" width="3" height="31" fill="#c0c0c0"/><rect x="757" y="533" width="3" height="34" fill="#c0c0c0"/><rect x="761" y="533" width="3" height="35" fill="#c0c0c0"/><rect x="765" y="533" width="3" height="34" fill="#c0c0c0"/><rect x="769" y="533" width="3" height="34" fill="#c0c0c0"/><rect x="773" y="533" width="3" height="33" fill="#c0c0c0"/><rect x="777" y="533" width="3" height="32" fill="#c0c0c0"/><rect x="781" y="533" width="3" height="31" fill="#c0c0c0"/><rect x="785" y="533" width="3" height="30" fill="#c0c0c0"/><rect x="789" y="533" width="3" height="27" fill="#c0c0c0"/><rect x="793" y="533" width="3" height="27" fill="#c0c0c0"/><rect x="797" y="533" width="3" height="27" fill="#c0c0c0"/><rect x="801" y="533" width="3" height="25" fill="#c0c0c0"/><rect x="805" y="533" width="3" height="23" fill="#c0c0c0"/><rect x="809" y="533" width="3" height="21" fill="#c0c0c0"/><rect x="813" y="533" width="3" height="18" fill="#c0c0c0"/><rect x="817" y="533" width="3" height="18" fill="#c0c0c0"/><rect x="821" y="533" width="3" height="18" fill="#c0c0c0"/><rect x="825" y="533" width="3" height="18" fill="#c0c0c0"/><rect x="829" y="533" width="3" height="17" fill="#c0c0c0"/><rect x="833" y="533" width="3" height="16" fill="#c0c0c0"/><rect x="837" y="533" width="3" height="16" fill="#c0c0c0"/><rect x="841" y="533" width="3" height="15" fill="#c0c0c0"/><rect x="845" y="533" width="3" height="13" fill="#c0c0c0"/><rect x="849" y="533" width="3" height="14" fill="#c0c0c0"/><rect x="853" y="533" width="3" height="17" fill="#c0c0c0"/><rect x="857" y="533" width="3" height="21" fill="#c0c0c0"/><rect x="861" y="533" width="3" height="26" fill="#c0c0c0"/><rect x="865" y="533" width="3" height="31" fill="#c0c0c0"/><rect x="869" y="533" width="3" height="35" fill="#c0c0c0"/><rect x="873" y="533" width="3" height="34" fill="#c0c0c0"/><rect x="877" y="533" width="3" height="32" fill="#c0c0c0"/><rect x="881" y="533" width="3" height="29" fill="#c0c0c0"/><rect x="885" y="533" width="3" height="27" fill="#c0c0c0"/><rect x="889" y="533" width="3" height="23" fill="#c0c0c0"/><rect x="893" y="533" width="3" height="19" fill="#c0c0c0"/><rect x="897" y="533" width="3" height="17" fill="#c0c0c0"/><rect x="901" y="533" width="3" height="14" fill="#c0c0c0"/><rect x="905" y="533" width="3" height="10" fill="#c0c0c0"/><rect x="909" y="533" width="3" height="5" fill="#c0c0c0"/><rect x="913" y="530" width="3" height="3" fill="#c0c0c0"/><rect x="917" y="525" width="3" height="8" fill="#c0c0c0"/><rect x="921" y="522" width="3" height="11" fill="#c0c0c0"/><rect x="925" y="520" width="3" height="13" fill="#c0c0c0"/><g shape-rendering="crispEdges"><path fill="#1e90ff" d="M659 630h5v1h-5zM692 630h2v1h-2zM743 630h2v1h-2zM766 630h10v1h-10zM786 630h2v1h-2zM301 621h2v1h-2zM413 621h6v1h-6zM581 621h3v1h-3zM627 621h2v1h-2zM675 621h2v1h-2zM804 621h2v1h-2zM809 621h3v1h-3zM880 621h2v1h-2zM884 621h2v1h-2zM276 614h2v1h-2zM281 614h4v1h-4zM336 614h2v1h-2zM531 614h2v1h-2zM536 614h2v1h-2zM541 614h3v1h-3zM591 614h2v1h-2zM610 614h3v1h-3zM164 617h2v1h-2zM169 617h2v1h-2zM321 617h2v1h-2zM324 617h2v1h-2zM397 617h2v1h-2zM483 617h2v1h-2zM569 617h3v1h-3zM617 617h3v1h-3zM898 617h2v1h-2zM10 598h6v1h-6zM76 598h2v1h-2zM93 598h2v1h-2zM96 598h2v1h-2zM249 598h4v1h-4zM256 598h2v1h-2zM177 623h2v1h-2zM189 623h3v1h-3zM291 623h3v1h-3zM297 623h3v1h-3zM363 623h2v1h-2zM368 623h2v1h-2zM372 623h2v1h-2zM385 623h4v1h-4zM667 623h2v1h-2zM671 623h2v1h-2zM681 623h3v1h-3zM703 623h5v1h-5zM819 623h5v1h-5zM152 613h3v1h-3zM200 613h2v1h-2zM278 613h3v1h-3zM334 613h2v1h-2zM533 613h3v1h-3zM51 604h2v1h-2zM115 604h2v1h-2zM514 604h2v1h-2zM197 615h2v1h-2zM285 615h3v1h-3zM311 615h2v1h-2zM317 615h2v1h-2zM538 615h3v1h-3zM549 615h2v1h-2zM589 615h2v1h-2zM593 615h2v1h-2zM608 615h2v1h-2zM613 615h2v1h-2zM622 615h2v1h-2zM891 615h5v1h-5zM902 615h2v1h-2zM162 616h2v1h-2zM195 616h2v1h-2zM313 616h4v1h-4zM319 616h2v1h-2zM326 616h2v1h-2zM339 616h9v1h-9zM545 616h2v1h-2zM603 616h5v1h-5zM615 616h2v1h-2zM620 616h2v1h-2zM896 616h2v1h-2zM900 616h2v1h-2zM175 622h2v1h-2zM187 622h2v1h-2zM294 622h3v1h-3zM370 622h2v1h-2zM579 622h2v1h-2zM673 622h2v1h-2zM677 622h4v1h-4zM791 622h2v1h-2zM886 622h2v1h-2zM122 611h2v1h-2zM127 611h2v1h-2zM134 611h2v1h-2zM146 611h2v1h-2zM203 611h2v1h-2zM237 611h2v1h-2zM456 611h2v1h-2zM502 611h2v1h-2zM711 626h2v1h-2zM737 626h2v1h-2zM7 599h3v1h-3zM85 599h2v1h-2zM247 599h2v1h-2zM253 599h3v1h-3zM269 620h2v1h-2zM303 620h2v1h-2zM404 620h2v1h-2zM409 620h4v1h-4zM419 620h5v1h-5zM576 620h2v1h-2zM629 620h3v1h-3zM806 620h3v1h-3zM882 620h2v1h-2zM184 624h2v1h-2zM365 624h3v1h-3zM374 624h11v1h-11zM389 624h3v1h-3zM669 624h2v1h-2zM725 624h9v1h-9zM824 624h2v1h-2zM829 624h3v1h-3zM16 597h5v1h-5zM72 597h2v1h-2zM88 597h2v1h-2zM91 597h2v1h-2zM98 597h2v1h-2zM258 597h2v1h-2zM109 607h2v1h-2zM140 607h2v1h-2zM213 607h2v1h-2zM216 607h2v1h-2zM221 607h2v1h-2zM429 607h3v1h-3zM441 607h2v1h-2zM910 607h2v1h-2zM111 606h2v1h-2zM223 606h2v1h-2zM228 606h3v1h-3zM510 606h2v1h-2zM517 606h2v1h-2zM923 606h2v1h-2zM357 628h2v1h-2zM687 628h2v1h-2zM782 628h2v1h-2zM798 628h2v1h-2zM657 631h2v1h-2zM694 631h2v1h-2zM745 631h3v1h-3zM764 631h2v1h-2zM855 631h2v1h-2zM267 619h2v1h-2zM305 619h3v1h-3zM330 619h2v1h-2zM400 619h2v1h-2zM406 619h3v1h-3zM495 619h2v1h-2zM525 619h3v1h-3zM555 619h6v1h-6zM632 619h2v1h-2zM642 619h2v1h-2zM106 608h3v1h-3zM211 608h2v1h-2zM218 608h3v1h-3zM427 608h2v1h-2zM432 608h2v1h-2zM445 608h2v1h-2zM448 608h2v1h-2zM462 608h2v1h-2zM471 608h2v1h-2zM908 608h2v1h-2zM713 627h2v1h-2zM739 627h2v1h-2zM780 627h2v1h-2zM796 627h2v1h-2zM651 633h5v1h-5zM689 629h3v1h-3zM716 629h2v1h-2zM784 629h2v1h-2zM209 609h2v1h-2zM434 609h6v1h-6zM460 609h2v1h-2zM473 609h4v1h-4zM21 596h4v1h-4zM166 618h3v1h-3zM395 618h2v1h-2zM485 618h3v1h-3zM523 618h2v1h-2zM561 618h8v1h-8zM572 618h3v1h-3zM634 618h2v1h-2zM843 618h5v1h-5zM180 625h2v1h-2zM709 625h2v1h-2zM723 625h2v1h-2zM734 625h3v1h-3zM826 625h3v1h-3zM124 610h3v1h-3zM136 610h2v1h-2zM205 610h4v1h-4zM458 610h2v1h-2zM477 610h2v1h-2zM129 612h2v1h-2zM132 612h2v1h-2zM148 612h4v1h-4zM235 612h2v1h-2zM490 612h2v1h-2zM500 612h2v1h-2zM53 603h6v1h-6zM117 603h2v1h-2zM916 603h2v1h-2zM64 605h2v1h-2zM113 605h2v1h-2zM225 605h3v1h-3zM508 605h2v1h-2zM512 605h2v1h-2zM913 605h2v1h-2zM925 605h2v1h-2zM649 632h2v1h-2zM748 632h4v1h-4zM857 632h3v1h-3zM757 637h2v1h-2zM864 637h2v1h-2zM869 637h3v1h-3zM79 600h2v1h-2zM83 600h2v1h-2zM245 600h2v1h-2zM81 601h2v1h-2zM243 601h2v1h-2zM918 602h2v1h-2zM755 636h2v1h-2zM37 594h3v1h-3zM25 595h2v1h-2zM261 595h3v1h-3zM28 593h2v1h-2zM34 593h3v1h-3zM866 638h3v1h-3zM32 592h2v1h-2zM647 629h1v2h-1zM696 630h1v1h-1zM718 630h1v1h-1zM720 629h1v2h-1zM855 630h1v1h-1zM874 629h1v2h-1zM174 621h1v1h-1zM192 621h1v2h-1zM271 621h1v1h-1zM290 621h1v2h-1zM350 620h1v2h-1zM393 621h1v1h-1zM403 621h1v1h-1zM578 621h1v1h-1zM597 621h1v2h-1zM601 620h1v3h-1zM638 621h1v1h-1zM640 621h1v1h-1zM644 620h1v3h-1zM791 621h1v1h-1zM818 621h1v2h-1zM833 621h1v2h-1zM837 621h1v1h-1zM841 620h1v2h-1zM849 620h1v2h-1zM888 620h1v2h-1zM161 614h1v2h-1zM199 614h1v1h-1zM266 614h1v5h-1zM333 614h1v3h-1zM425 613h1v3h-1zM481 614h1v1h-1zM489 614h1v2h-1zM492 613h1v2h-1zM498 614h1v2h-1zM522 614h1v3h-1zM551 614h1v1h-1zM904 613h1v2h-1zM194 617h1v2h-1zM274 616h1v2h-1zM288 617h1v2h-1zM309 617h1v1h-1zM328 617h1v1h-1zM332 617h1v2h-1zM348 617h1v2h-1zM424 616h1v3h-1zM488 616h1v2h-1zM494 617h1v2h-1zM497 616h1v2h-1zM523 617h1v1h-1zM529 616h1v2h-1zM547 617h1v1h-1zM553 616h1v2h-1zM587 617h1v1h-1zM595 617h1v2h-1zM603 617h1v1h-1zM624 616h1v2h-1zM815 617h1v1h-1zM890 616h1v2h-1zM40 596h1v3h-1zM71 598h1v1h-1zM87 598h1v1h-1zM100 598h1v2h-1zM264 598h1v8h-1zM186 623h1v1h-1zM352 623h1v1h-1zM392 622h1v2h-1zM598 623h1v2h-1zM600 623h1v2h-1zM645 623h1v3h-1zM790 623h1v2h-1zM793 623h1v2h-1zM802 623h1v2h-1zM832 623h1v1h-1zM839 623h1v1h-1zM851 623h1v1h-1zM878 623h1v1h-1zM131 613h1v1h-1zM160 612h1v2h-1zM265 606h1v8h-1zM480 613h1v1h-1zM490 613h1v1h-1zM499 613h1v1h-1zM521 612h1v2h-1zM43 604h1v2h-1zM59 604h1v1h-1zM66 604h1v1h-1zM104 604h1v2h-1zM119 604h1v2h-1zM241 604h1v2h-1zM467 604h1v1h-1zM507 604h1v1h-1zM915 604h1v1h-1zM921 604h1v1h-1zM275 615h1v1h-1zM338 615h1v1h-1zM482 615h1v2h-1zM493 615h1v2h-1zM530 615h1v1h-1zM544 615h1v1h-1zM552 615h1v1h-1zM287 616h1v1h-1zM310 616h1v1h-1zM548 616h1v1h-1zM588 616h1v1h-1zM594 616h1v1h-1zM300 622h1v1h-1zM351 622h1v1h-1zM639 622h1v1h-1zM803 622h1v1h-1zM838 622h1v1h-1zM840 622h1v1h-1zM850 622h1v1h-1zM879 622h1v1h-1zM156 611h1v1h-1zM159 610h1v2h-1zM234 611h1v1h-1zM426 610h1v3h-1zM454 611h1v1h-1zM479 611h1v2h-1zM491 611h1v1h-1zM520 609h1v3h-1zM906 610h1v2h-1zM182 626h1v1h-1zM355 626h1v1h-1zM361 626h1v1h-1zM599 625h1v2h-1zM646 626h1v3h-1zM665 626h1v2h-1zM685 625h1v2h-1zM700 626h1v1h-1zM722 626h1v2h-1zM779 626h1v1h-1zM789 625h1v2h-1zM795 626h1v1h-1zM800 626h1v2h-1zM853 626h1v2h-1zM876 626h1v1h-1zM41 599h1v3h-1zM70 599h1v1h-1zM78 599h1v1h-1zM95 599h1v1h-1zM173 620h1v1h-1zM193 619h1v2h-1zM272 619h1v2h-1zM289 619h1v2h-1zM331 620h1v1h-1zM394 619h1v2h-1zM402 620h1v1h-1zM495 620h1v1h-1zM584 620h1v1h-1zM596 619h1v2h-1zM626 619h1v2h-1zM637 620h1v1h-1zM641 620h1v1h-1zM812 620h1v1h-1zM817 620h1v1h-1zM834 620h1v1h-1zM836 620h1v1h-1zM179 624h1v1h-1zM291 624h1v1h-1zM353 624h1v1h-1zM362 624h1v2h-1zM666 624h1v2h-1zM684 624h1v1h-1zM702 624h1v1h-1zM708 624h1v1h-1zM852 624h1v2h-1zM877 624h1v2h-1zM75 597h1v1h-1zM263 594h1v1h-1zM263 596h1v2h-1zM45 607h1v2h-1zM48 607h1v1h-1zM62 607h1v1h-1zM105 606h1v2h-1zM120 606h1v2h-1zM143 607h1v1h-1zM231 607h1v1h-1zM240 606h1v2h-1zM444 607h1v1h-1zM450 607h1v1h-1zM464 607h1v1h-1zM470 607h1v1h-1zM505 607h1v2h-1zM519 607h1v2h-1zM44 606h1v1h-1zM49 606h1v1h-1zM61 606h1v1h-1zM63 606h1v1h-1zM142 606h1v1h-1zM215 606h1v1h-1zM443 606h1v1h-1zM465 606h1v1h-1zM469 606h1v1h-1zM506 605h1v2h-1zM912 606h1v1h-1zM360 627h1v2h-1zM664 628h1v2h-1zM698 628h1v1h-1zM715 628h1v1h-1zM721 628h1v1h-1zM741 628h1v1h-1zM777 628h1v1h-1zM788 627h1v2h-1zM854 628h1v2h-1zM875 627h1v2h-1zM648 631h1v1h-1zM719 631h1v1h-1zM873 631h1v3h-1zM172 619h1v1h-1zM349 619h1v1h-1zM423 619h1v1h-1zM575 619h1v1h-1zM585 619h1v1h-1zM602 618h1v2h-1zM636 619h1v1h-1zM813 619h1v1h-1zM816 618h1v2h-1zM835 619h1v1h-1zM842 619h1v1h-1zM848 619h1v1h-1zM889 618h1v2h-1zM47 608h1v1h-1zM121 608h1v2h-1zM139 608h1v1h-1zM144 608h1v2h-1zM232 608h1v1h-1zM239 608h1v2h-1zM440 608h1v1h-1zM451 608h1v1h-1zM356 627h1v1h-1zM686 627h1v1h-1zM699 627h1v1h-1zM778 627h1v1h-1zM752 633h1v1h-1zM762 633h1v1h-1zM860 633h1v1h-1zM359 629h1v1h-1zM697 629h1v1h-1zM742 629h1v1h-1zM776 629h1v1h-1zM787 629h1v1h-1zM46 609h1v1h-1zM106 609h1v1h-1zM138 609h1v1h-1zM158 609h1v1h-1zM233 609h1v2h-1zM427 609h1v1h-1zM447 609h1v1h-1zM452 609h1v1h-1zM504 609h1v2h-1zM907 609h1v1h-1zM74 596h1v1h-1zM90 596h1v1h-1zM260 596h1v1h-1zM171 618h1v1h-1zM273 618h1v1h-1zM308 618h1v1h-1zM323 618h1v1h-1zM329 618h1v1h-1zM399 618h1v1h-1zM496 618h1v1h-1zM528 618h1v1h-1zM554 618h1v1h-1zM586 618h1v1h-1zM625 618h1v1h-1zM643 618h1v1h-1zM814 618h1v1h-1zM183 625h1v1h-1zM354 625h1v1h-1zM701 625h1v1h-1zM794 625h1v1h-1zM801 625h1v1h-1zM122 610h1v1h-1zM145 610h1v1h-1zM157 610h1v1h-1zM238 610h1v1h-1zM453 610h1v1h-1zM155 612h1v1h-1zM202 612h1v1h-1zM334 612h1v1h-1zM455 612h1v1h-1zM905 612h1v1h-1zM42 602h1v2h-1zM67 603h1v1h-1zM103 603h1v1h-1zM242 602h1v2h-1zM920 603h1v1h-1zM50 605h1v1h-1zM60 605h1v1h-1zM466 605h1v1h-1zM468 605h1v1h-1zM516 605h1v1h-1zM922 605h1v1h-1zM656 632h1v1h-1zM763 632h1v1h-1zM69 600h1v2h-1zM101 600h1v1h-1zM754 635h1v1h-1zM760 635h1v1h-1zM862 635h1v1h-1zM872 634h1v2h-1zM102 601h1v2h-1zM68 602h1v1h-1zM759 636h1v1h-1zM863 636h1v1h-1zM871 636h1v1h-1zM27 594h1v1h-1zM39 595h1v1h-1zM31 591h1v1h-1zM753 634h1v1h-1zM761 634h1v1h-1zM861 634h1v1h-1zM30 592h1v1h-1z"/><path fill="#ff0" d="M326 171h4v1h-4zM377 171h2v1h-2zM562 171h2v1h-2zM646 171h2v1h-2zM901 370h11v1h-11zM841 328h2v1h-2zM812 311h2v1h-2zM209 196h3v1h-3zM506 196h2v1h-2zM680 196h3v1h-3zM441 201h8v1h-8zM689 201h2v1h-2zM263 176h6v1h-6zM386 176h2v1h-2zM548 176h2v1h-2zM653 176h2v1h-2zM240 185h4v1h-4zM527 185h4v1h-4zM284 172h13v1h-13zM322 172h4v1h-4zM379 172h2v1h-2zM559 172h3v1h-3zM339 166h3v1h-3zM362 166h4v1h-4zM582 166h43v1h-43zM335 168h2v1h-2zM369 168h3v1h-3zM571 168h5v1h-5zM629 168h3v1h-3zM167 208h2v1h-2zM219 192h3v1h-3zM871 352h2v1h-2zM723 229h2v1h-2zM205 198h2v1h-2zM427 198h4v1h-4zM462 198h42v1h-42zM685 198h2v1h-2zM822 316h2v1h-2zM703 213h2v1h-2zM894 367h3v1h-3zM917 367h2v1h-2zM247 183h2v1h-2zM533 183h2v1h-2zM275 174h4v1h-4zM300 174h14v1h-14zM383 174h2v1h-2zM552 174h3v1h-3zM650 174h2v1h-2zM224 190h3v1h-3zM515 190h2v1h-2zM671 190h2v1h-2zM279 173h5v1h-5zM297 173h3v1h-3zM314 173h8v1h-8zM381 173h2v1h-2zM555 173h4v1h-4zM885 362h2v1h-2zM214 194h3v1h-3zM676 194h2v1h-2zM269 175h6v1h-6zM550 175h2v1h-2zM244 184h3v1h-3zM531 184h2v1h-2zM664 184h2v1h-2zM152 219h2v1h-2zM217 193h2v1h-2zM511 193h2v1h-2zM892 366h2v1h-2zM919 366h8v1h-8zM171 206h3v1h-3zM330 170h3v1h-3zM374 170h3v1h-3zM564 170h3v1h-3zM636 170h10v1h-10zM178 204h18v1h-18zM230 188h4v1h-4zM519 188h2v1h-2zM422 200h2v1h-2zM435 200h6v1h-6zM449 200h7v1h-7zM837 326h2v1h-2zM253 180h3v1h-3zM398 180h3v1h-3zM539 180h2v1h-2zM337 167h2v1h-2zM366 167h3v1h-3zM576 167h6v1h-6zM625 167h4v1h-4zM237 186h3v1h-3zM407 186h2v1h-2zM524 186h3v1h-3zM882 360h2v1h-2zM169 207h2v1h-2zM696 207h2v1h-2zM256 179h2v1h-2zM393 179h5v1h-5zM541 179h3v1h-3zM658 179h2v1h-2zM258 178h3v1h-3zM390 178h3v1h-3zM544 178h2v1h-2zM656 178h2v1h-2zM196 203h5v1h-5zM424 199h3v1h-3zM431 199h4v1h-4zM456 199h6v1h-6zM333 169h2v1h-2zM372 169h2v1h-2zM567 169h4v1h-4zM632 169h4v1h-4zM227 189h3v1h-3zM411 189h2v1h-2zM517 189h2v1h-2zM818 314h2v1h-2zM848 331h2v1h-2zM899 369h2v1h-2zM912 369h2v1h-2zM809 310h3v1h-3zM145 224h2v1h-2zM832 323h2v1h-2zM251 181h2v1h-2zM537 181h2v1h-2zM261 177h2v1h-2zM388 177h2v1h-2zM546 177h2v1h-2zM834 324h2v1h-2zM715 223h2v1h-2zM788 293h2v1h-2zM878 357h2v1h-2zM345 164h14v1h-14zM829 321h2v1h-2zM249 182h2v1h-2zM402 182h2v1h-2zM535 182h2v1h-2zM342 165h3v1h-3zM359 165h3v1h-3zM207 197h2v1h-2zM504 197h2v1h-2zM683 197h2v1h-2zM150 220h2v1h-2zM174 205h4v1h-4zM234 187h3v1h-3zM521 187h3v1h-3zM739 241h2v1h-2zM825 318h2v1h-2zM802 307h2v1h-2zM897 368h2v1h-2zM914 368h3v1h-3zM814 312h2v1h-2zM212 195h2v1h-2zM508 195h2v1h-2zM678 195h2v1h-2zM806 309h3v1h-3zM820 315h2v1h-2zM165 209h2v1h-2zM816 313h2v1h-2zM888 364h2v1h-2zM804 308h2v1h-2zM709 218h2v1h-2zM890 365h2v1h-2zM843 329h2v1h-2zM845 330h3v1h-3zM839 327h2v1h-2zM719 226h2v1h-2zM735 238h2v1h-2zM222 191h2v1h-2zM857 338h2v1h-2zM43 337h2v1h-2zM852 334h2v1h-2zM157 215h2v1h-2zM727 232h2v1h-2zM875 355h2v1h-2zM162 211h2v1h-2zM731 235h2v1h-2zM98 275h1v1h-1zM771 275h1v1h-1zM21 370h1v1h-1zM53 328h1v1h-1zM70 310h1v2h-1zM418 195h1v2h-1zM202 201h1v1h-1zM81 297h1v1h-1zM793 297h1v1h-1zM406 185h1v1h-1zM666 185h1v1h-1zM648 172h1v1h-1zM698 208h1v1h-1zM415 192h1v1h-1zM513 192h1v1h-1zM674 192h1v1h-1zM31 352h1v2h-1zM140 229h1v1h-1zM106 265h1v1h-1zM763 265h1v1h-1zM420 198h1v1h-1zM65 316h1v1h-1zM36 345h1v1h-1zM865 345h1v2h-1zM160 213h1v1h-1zM16 376h1v1h-1zM23 366h1v2h-1zM404 183h1v1h-1zM663 183h1v1h-1zM138 231h1v1h-1zM726 231h1v1h-1zM83 295h1v1h-1zM791 295h1v1h-1zM413 190h1v1h-1zM121 248h1v2h-1zM748 249h1v1h-1zM649 173h1v1h-1zM95 278h1v2h-1zM774 278h1v1h-1zM26 361h1v2h-1zM417 194h1v1h-1zM510 194h1v1h-1zM385 175h1v1h-1zM652 175h1v1h-1zM405 184h1v1h-1zM118 252h1v1h-1zM751 252h1v1h-1zM711 219h1v1h-1zM416 193h1v1h-1zM675 193h1v1h-1zM130 239h1v1h-1zM737 239h1v1h-1zM695 206h1v1h-1zM8 386h1v1h-1zM11 382h1v1h-1zM78 301h1v1h-1zM797 301h1v2h-1zM693 204h1v1h-1zM410 188h1v1h-1zM669 188h1v1h-1zM203 200h1v1h-1zM688 200h1v1h-1zM55 326h1v1h-1zM660 180h1v1h-1zM667 186h1v1h-1zM27 359h1v2h-1zM103 268h1v2h-1zM766 268h1v2h-1zM113 257h1v1h-1zM756 257h1v1h-1zM30 354h1v2h-1zM874 354h1v1h-1zM39 341h1v2h-1zM861 341h1v1h-1zM19 372h1v2h-1zM86 291h1v1h-1zM786 291h1v1h-1zM89 287h1v1h-1zM783 287h1v2h-1zM692 203h1v1h-1zM164 210h1v1h-1zM700 210h1v1h-1zM204 199h1v1h-1zM421 199h1v1h-1zM687 199h1v1h-1zM670 189h1v1h-1zM67 314h1v1h-1zM50 331h1v1h-1zM22 368h1v2h-1zM717 224h1v1h-1zM58 323h1v1h-1zM401 181h1v1h-1zM661 181h1v1h-1zM884 361h1v1h-1zM655 177h1v1h-1zM90 285h1v2h-1zM782 286h1v1h-1zM57 324h1v1h-1zM149 221h1v1h-1zM713 221h1v1h-1zM35 346h1v2h-1zM866 347h1v1h-1zM147 223h1v1h-1zM34 348h1v1h-1zM867 348h1v1h-1zM85 292h1v2h-1zM109 261h1v1h-1zM759 260h1v2h-1zM102 270h1v1h-1zM767 270h1v1h-1zM28 357h1v2h-1zM144 225h1v1h-1zM718 225h1v1h-1zM60 321h1v1h-1zM881 359h1v1h-1zM662 182h1v1h-1zM133 236h1v1h-1zM733 236h1v1h-1zM46 335h1v1h-1zM854 335h1v1h-1zM73 306h1v2h-1zM801 306h1v1h-1zM124 245h1v1h-1zM744 245h1v1h-1zM41 339h1v1h-1zM859 339h1v1h-1zM123 246h1v1h-1zM745 246h1v1h-1zM747 248h1v1h-1zM781 285h1v1h-1zM419 197h1v1h-1zM116 254h1v1h-1zM753 254h1v1h-1zM18 374h1v1h-1zM62 319h1v1h-1zM827 319h1v1h-1zM712 220h1v1h-1zM694 205h1v1h-1zM97 276h1v1h-1zM772 276h1v1h-1zM136 233h1v1h-1zM729 233h1v1h-1zM409 187h1v1h-1zM668 187h1v1h-1zM125 244h1v1h-1zM743 244h1v1h-1zM80 298h1v2h-1zM795 299h1v1h-1zM148 222h1v1h-1zM714 222h1v1h-1zM128 241h1v1h-1zM104 267h1v1h-1zM765 267h1v1h-1zM63 318h1v1h-1zM29 356h1v1h-1zM877 356h1v1h-1zM119 251h1v1h-1zM750 251h1v1h-1zM69 312h1v1h-1zM38 343h1v1h-1zM863 343h1v1h-1zM45 336h1v1h-1zM855 336h1v1h-1zM112 258h1v1h-1zM757 258h1v1h-1zM71 309h1v1h-1zM120 250h1v1h-1zM749 250h1v1h-1zM787 292h1v1h-1zM33 349h1v1h-1zM868 349h1v1h-1zM111 259h1v1h-1zM758 259h1v1h-1zM66 315h1v1h-1zM873 353h1v1h-1zM25 363h1v1h-1zM887 363h1v1h-1zM699 209h1v1h-1zM10 383h1v1h-1zM92 282h1v2h-1zM778 282h1v1h-1zM88 288h1v1h-1zM77 302h1v1h-1zM135 234h1v1h-1zM730 234h1v1h-1zM794 298h1v1h-1zM87 289h1v2h-1zM784 289h1v1h-1zM105 266h1v1h-1zM764 266h1v1h-1zM108 262h1v1h-1zM760 262h1v1h-1zM139 230h1v1h-1zM725 230h1v1h-1zM68 313h1v1h-1zM24 364h1v2h-1zM99 273h1v2h-1zM769 272h1v2h-1zM72 308h1v1h-1zM154 218h1v1h-1zM100 272h1v1h-1zM155 217h1v1h-1zM708 217h1v1h-1zM201 202h1v1h-1zM691 202h1v1h-1zM13 380h1v1h-1zM159 214h1v1h-1zM705 214h1v1h-1zM94 280h1v1h-1zM776 280h1v1h-1zM64 317h1v1h-1zM824 317h1v1h-1zM49 332h1v1h-1zM850 332h1v1h-1zM52 329h1v1h-1zM48 333h1v1h-1zM851 333h1v1h-1zM115 255h1v1h-1zM754 255h1v1h-1zM75 304h1v1h-1zM799 304h1v1h-1zM775 279h1v1h-1zM51 330h1v1h-1zM32 350h1v2h-1zM869 350h1v1h-1zM54 327h1v1h-1zM143 226h1v1h-1zM132 237h1v1h-1zM734 237h1v1h-1zM107 263h1v2h-1zM761 263h1v1h-1zM880 358h1v1h-1zM131 238h1v1h-1zM122 247h1v1h-1zM746 247h1v1h-1zM142 227h1v1h-1zM721 227h1v1h-1zM770 274h1v1h-1zM101 271h1v1h-1zM768 271h1v1h-1zM870 351h1v1h-1zM414 191h1v1h-1zM514 191h1v1h-1zM673 191h1v1h-1zM91 284h1v1h-1zM780 284h1v1h-1zM84 294h1v1h-1zM790 294h1v1h-1zM42 338h1v1h-1zM762 264h1v1h-1zM40 340h1v1h-1zM860 340h1v1h-1zM59 322h1v1h-1zM831 322h1v1h-1zM856 337h1v1h-1zM47 334h1v1h-1zM706 215h1v1h-1zM161 212h1v1h-1zM702 212h1v1h-1zM785 290h1v1h-1zM12 381h1v1h-1zM110 260h1v1h-1zM79 300h1v1h-1zM796 300h1v1h-1zM137 232h1v1h-1zM82 296h1v1h-1zM792 296h1v1h-1zM7 387h1v1h-1zM20 371h1v1h-1zM117 253h1v1h-1zM752 253h1v1h-1zM15 377h1v1h-1zM127 242h1v1h-1zM741 242h1v1h-1zM74 305h1v1h-1zM800 305h1v1h-1zM701 211h1v1h-1zM93 281h1v1h-1zM777 281h1v1h-1zM862 342h1v1h-1zM141 228h1v1h-1zM722 228h1v1h-1zM156 216h1v1h-1zM707 216h1v1h-1zM14 378h1v2h-1zM61 320h1v1h-1zM828 320h1v1h-1zM56 325h1v1h-1zM836 325h1v1h-1zM129 240h1v1h-1zM738 240h1v1h-1zM114 256h1v1h-1zM755 256h1v1h-1zM76 303h1v1h-1zM798 303h1v1h-1zM37 344h1v1h-1zM864 344h1v1h-1zM9 384h1v2h-1zM6 388h1v1h-1zM134 235h1v1h-1zM17 375h1v1h-1zM96 277h1v1h-1zM773 277h1v1h-1zM779 283h1v1h-1zM126 243h1v1h-1zM742 243h1v1h-1z"/><path fill="#00f" d="M112 210h2v1h-2zM403 210h2v1h-2zM745 284h2v1h-2zM198 200h14v1h-14zM659 200h2v1h-2zM302 151h5v1h-5zM184 193h2v1h-2zM239 193h2v1h-2zM372 193h2v1h-2zM366 189h2v1h-2zM789 327h2v1h-2zM889 383h3v1h-3zM919 383h2v1h-2zM124 202h2v1h-2zM390 202h2v1h-2zM826 350h3v1h-3zM836 350h15v1h-15zM900 388h2v1h-2zM907 388h4v1h-4zM892 384h2v1h-2zM917 384h2v1h-2zM158 179h7v1h-7zM494 179h2v1h-2zM634 179h5v1h-5zM777 317h2v1h-2zM829 351h7v1h-7zM851 351h2v1h-2zM192 197h2v1h-2zM219 197h4v1h-4zM381 197h2v1h-2zM498 177h2v1h-2zM629 177h2v1h-2zM791 328h2v1h-2zM894 385h2v1h-2zM915 385h2v1h-2zM603 172h5v1h-5zM614 172h2v1h-2zM412 214h2v1h-2zM333 160h2v1h-2zM518 160h8v1h-8zM533 160h3v1h-3zM558 160h2v1h-2zM565 160h3v1h-3zM572 160h4v1h-4zM580 160h4v1h-4zM149 182h3v1h-3zM171 182h2v1h-2zM730 278h8v1h-8zM511 165h2v1h-2zM592 165h2v1h-2zM422 222h11v1h-11zM190 196h2v1h-2zM223 196h7v1h-7zM379 196h2v1h-2zM147 183h2v1h-2zM488 183h2v1h-2zM407 212h2v1h-2zM446 212h2v1h-2zM877 376h2v1h-2zM601 171h2v1h-2zM608 171h6v1h-6zM509 166h2v1h-2zM120 204h2v1h-2zM393 204h2v1h-2zM154 180h4v1h-4zM165 180h5v1h-5zM639 180h4v1h-4zM483 185h3v1h-3zM599 170h2v1h-2zM452 208h2v1h-2zM417 218h2v1h-2zM478 187h2v1h-2zM307 152h17v1h-17zM114 209h2v1h-2zM401 209h2v1h-2zM669 209h2v1h-2zM341 167h2v1h-2zM507 167h2v1h-2zM280 148h2v1h-2zM294 148h2v1h-2zM529 161h4v1h-4zM560 161h2v1h-2zM563 161h2v1h-2zM584 161h2v1h-2zM108 213h2v1h-2zM409 213h3v1h-3zM444 213h2v1h-2zM898 387h2v1h-2zM911 387h2v1h-2zM616 173h2v1h-2zM496 178h2v1h-2zM631 178h3v1h-3zM145 184h2v1h-2zM486 184h2v1h-2zM194 198h2v1h-2zM216 198h3v1h-3zM383 198h2v1h-2zM268 158h2v1h-2zM538 158h18v1h-18zM133 194h2v1h-2zM186 194h2v1h-2zM237 194h2v1h-2zM374 194h3v1h-3zM284 145h2v1h-2zM288 145h2v1h-2zM810 340h2v1h-2zM136 192h2v1h-2zM241 192h2v1h-2zM370 192h2v1h-2zM802 336h2v1h-2zM188 195h2v1h-2zM230 195h7v1h-7zM377 195h2v1h-2zM536 159h2v1h-2zM556 159h2v1h-2zM568 159h4v1h-4zM576 159h4v1h-4zM388 201h2v1h-2zM462 201h2v1h-2zM348 174h3v1h-3zM618 174h3v1h-3zM515 162h2v1h-2zM527 162h2v1h-2zM586 162h2v1h-2zM740 280h2v1h-2zM44 293h2v1h-2zM676 215h2v1h-2zM480 186h3v1h-3zM806 338h2v1h-2zM433 221h3v1h-3zM328 156h2v1h-2zM298 150h4v1h-4zM351 175h3v1h-3zM621 175h4v1h-4zM596 168h2v1h-2zM738 279h2v1h-2zM395 205h2v1h-2zM456 205h2v1h-2zM122 203h2v1h-2zM459 203h2v1h-2zM324 153h2v1h-2zM887 382h2v1h-2zM921 382h2v1h-2zM472 191h2v1h-2zM590 164h2v1h-2zM178 188h2v1h-2zM476 188h2v1h-2zM152 181h2v1h-2zM491 181h2v1h-2zM824 349h2v1h-2zM767 310h2v1h-2zM728 277h2v1h-2zM405 211h2v1h-2zM448 211h2v1h-2zM290 146h2v1h-2zM795 331h2v1h-2zM896 386h2v1h-2zM913 386h2v1h-2zM286 144h2v1h-2zM296 149h2v1h-2zM500 176h2v1h-2zM625 176h4v1h-4zM902 389h5v1h-5zM779 318h2v1h-2zM819 346h2v1h-2zM196 199h2v1h-2zM212 199h4v1h-4zM385 199h2v1h-2zM46 292h2v1h-2zM775 316h2v1h-2zM726 276h2v1h-2zM439 217h2v1h-2zM679 217h2v1h-2zM882 379h2v1h-2zM42 294h2v1h-2zM270 157h2v1h-2zM344 169h2v1h-2zM879 377h2v1h-2zM588 163h2v1h-2zM398 207h2v1h-2zM812 341h2v1h-2zM875 375h2v1h-2zM815 343h2v1h-2zM808 339h2v1h-2zM800 335h2v1h-2zM925 380h2v1h-2zM804 337h2v1h-2zM292 147h2v1h-2zM822 348h2v1h-2zM885 381h2v1h-2zM923 381h2v1h-2zM773 315h2v1h-2zM787 326h2v1h-2zM853 352h2v1h-2zM92 232h1v1h-1zM691 231h1v2h-1zM450 210h1v1h-1zM671 210h1v1h-1zM7 345h1v1h-1zM818 345h1v1h-1zM54 283h1v2h-1zM68 267h1v2h-1zM718 267h1v1h-1zM127 200h1v1h-1zM387 200h1v1h-1zM464 200h1v1h-1zM277 151h1v1h-1zM135 193h1v1h-1zM470 193h1v1h-1zM653 193h1v2h-1zM140 189h1v1h-1zM180 189h1v1h-1zM245 189h1v1h-1zM475 189h1v1h-1zM650 189h1v1h-1zM21 327h1v1h-1zM461 202h1v1h-1zM662 202h1v1h-1zM252 179h1v2h-1zM356 179h1v1h-1zM27 317h1v2h-1zM17 332h1v2h-1zM797 332h1v1h-1zM40 297h1v1h-1zM757 297h1v2h-1zM130 197h1v1h-1zM467 196h1v2h-1zM656 197h1v1h-1zM139 190h1v1h-1zM181 190h1v1h-1zM244 190h1v1h-1zM368 190h1v1h-1zM474 190h1v1h-1zM651 190h1v2h-1zM254 176h1v2h-1zM355 177h1v2h-1zM20 328h1v2h-1zM257 172h1v2h-1zM347 171h1v2h-1zM504 171h1v2h-1zM107 214h1v1h-1zM443 214h1v1h-1zM675 214h1v1h-1zM266 160h1v1h-1zM250 182h1v2h-1zM359 182h1v1h-1zM490 182h1v1h-1zM644 182h1v1h-1zM64 272h1v1h-1zM722 271h1v2h-1zM58 278h1v1h-1zM261 165h1v2h-1zM339 165h1v1h-1zM867 366h1v2h-1zM76 255h1v2h-1zM709 255h1v1h-1zM100 221h1v2h-1zM684 221h1v2h-1zM131 196h1v1h-1zM655 196h1v1h-1zM173 183h1v1h-1zM360 183h1v1h-1zM645 183h1v1h-1zM118 206h1v1h-1zM397 206h1v1h-1zM455 206h1v1h-1zM666 206h1v1h-1zM110 212h1v1h-1zM673 212h1v1h-1zM881 378h1v1h-1zM258 171h1v1h-1zM340 166h1v1h-1zM594 166h1v1h-1zM458 204h1v1h-1zM664 204h1v1h-1zM357 180h1v1h-1zM493 180h1v1h-1zM105 216h1v1h-1zM415 216h1v1h-1zM441 216h1v1h-1zM678 216h1v1h-1zM78 252h1v2h-1zM707 252h1v1h-1zM144 185h1v1h-1zM175 185h1v1h-1zM248 185h1v1h-1zM362 185h1v1h-1zM647 185h1v1h-1zM259 169h1v2h-1zM346 170h1v1h-1zM505 169h1v2h-1zM55 282h1v1h-1zM743 282h1v1h-1zM116 208h1v1h-1zM400 208h1v1h-1zM668 208h1v1h-1zM95 228h1v1h-1zM689 228h1v2h-1zM103 218h1v1h-1zM438 218h1v1h-1zM681 218h1v1h-1zM9 342h1v2h-1zM814 342h1v1h-1zM874 374h1v1h-1zM142 187h1v1h-1zM177 187h1v1h-1zM246 187h1v2h-1zM364 187h1v1h-1zM649 187h1v2h-1zM72 261h1v2h-1zM714 261h1v2h-1zM276 152h1v1h-1zM451 209h1v1h-1zM260 167h1v2h-1zM595 167h1v1h-1zM265 161h1v1h-1zM335 161h1v1h-1zM517 161h1v1h-1zM526 161h1v1h-1zM674 213h1v1h-1zM33 307h1v2h-1zM764 307h1v1h-1zM70 264h1v2h-1zM717 265h1v2h-1zM348 173h1v1h-1zM503 173h1v2h-1zM253 178h1v1h-1zM56 280h1v2h-1zM742 281h1v1h-1zM174 184h1v1h-1zM249 184h1v1h-1zM361 184h1v1h-1zM646 184h1v1h-1zM129 198h1v1h-1zM466 198h1v1h-1zM657 198h1v1h-1zM331 158h1v1h-1zM469 194h1v1h-1zM11 340h1v1h-1zM183 192h1v1h-1zM471 192h1v1h-1zM652 192h1v1h-1zM14 336h1v2h-1zM132 195h1v1h-1zM468 195h1v1h-1zM654 195h1v1h-1zM84 243h1v2h-1zM699 243h1v1h-1zM48 291h1v1h-1zM753 291h1v2h-1zM267 159h1v1h-1zM332 159h1v1h-1zM126 201h1v1h-1zM661 201h1v1h-1zM256 174h1v1h-1zM264 162h1v1h-1zM336 162h1v1h-1zM562 162h1v1h-1zM29 314h1v1h-1zM772 314h1v1h-1zM866 365h1v1h-1zM24 322h1v2h-1zM784 322h1v2h-1zM754 293h1v1h-1zM106 215h1v1h-1zM414 215h1v1h-1zM442 215h1v1h-1zM79 251h1v1h-1zM706 251h1v1h-1zM143 186h1v1h-1zM176 186h1v1h-1zM247 186h1v1h-1zM363 186h1v1h-1zM648 186h1v1h-1zM13 338h1v1h-1zM421 221h1v1h-1zM873 373h1v1h-1zM36 302h1v2h-1zM761 303h1v2h-1zM16 334h1v1h-1zM799 334h1v1h-1zM272 156h1v1h-1zM278 150h1v1h-1zM255 175h1v1h-1zM502 175h1v1h-1zM8 344h1v1h-1zM817 344h1v1h-1zM51 287h1v1h-1zM749 287h1v1h-1zM85 242h1v1h-1zM698 242h1v1h-1zM859 357h1v1h-1zM343 168h1v1h-1zM506 168h1v1h-1zM716 264h1v1h-1zM31 310h1v2h-1zM769 311h1v1h-1zM57 279h1v1h-1zM82 246h1v2h-1zM703 247h1v1h-1zM119 205h1v1h-1zM665 205h1v1h-1zM392 203h1v1h-1zM663 203h1v1h-1zM50 288h1v2h-1zM750 288h1v1h-1zM275 153h1v1h-1zM138 191h1v1h-1zM182 191h1v1h-1zM243 191h1v1h-1zM369 191h1v1h-1zM751 289h1v1h-1zM25 320h1v2h-1zM783 321h1v1h-1zM262 164h1v1h-1zM338 164h1v1h-1zM513 164h1v1h-1zM141 188h1v1h-1zM365 188h1v1h-1zM80 249h1v2h-1zM705 249h1v2h-1zM39 298h1v2h-1zM758 299h1v1h-1zM19 330h1v1h-1zM794 330h1v1h-1zM170 181h1v1h-1zM251 181h1v1h-1zM358 181h1v1h-1zM643 181h1v1h-1zM798 333h1v1h-1zM765 308h1v1h-1zM858 356h1v1h-1zM59 277h1v1h-1zM102 219h1v1h-1zM419 219h1v1h-1zM437 219h1v1h-1zM682 219h1v1h-1zM760 302h1v1h-1zM111 211h1v1h-1zM672 211h1v1h-1zM67 269h1v1h-1zM720 269h1v1h-1zM75 257h1v1h-1zM711 257h1v2h-1zM744 283h1v1h-1zM66 270h1v1h-1zM721 270h1v1h-1zM283 146h1v1h-1zM18 331h1v1h-1zM32 309h1v1h-1zM766 309h1v1h-1zM702 246h1v1h-1zM91 233h1v1h-1zM692 233h1v2h-1zM94 229h1v1h-1zM279 149h1v1h-1zM101 220h1v1h-1zM420 220h1v1h-1zM436 220h1v1h-1zM683 220h1v1h-1zM354 176h1v1h-1zM708 253h1v2h-1zM97 225h1v2h-1zM687 225h1v2h-1zM793 329h1v1h-1zM6 346h1v1h-1zM128 199h1v1h-1zM465 199h1v1h-1zM658 199h1v1h-1zM28 315h1v2h-1zM869 369h1v1h-1zM60 276h1v1h-1zM22 325h1v2h-1zM786 325h1v1h-1zM104 217h1v1h-1zM416 217h1v1h-1zM69 266h1v1h-1zM74 258h1v2h-1zM712 259h1v1h-1zM755 294h1v2h-1zM330 157h1v1h-1zM98 224h1v1h-1zM686 224h1v1h-1zM88 237h1v1h-1zM694 236h1v2h-1zM598 169h1v1h-1zM868 368h1v1h-1zM274 154h1v1h-1zM326 154h1v1h-1zM263 163h1v1h-1zM337 163h1v1h-1zM514 163h1v1h-1zM61 275h1v1h-1zM725 275h1v1h-1zM83 245h1v1h-1zM701 245h1v1h-1zM117 207h1v1h-1zM454 207h1v1h-1zM667 207h1v1h-1zM10 341h1v1h-1zM53 285h1v1h-1zM747 285h1v1h-1zM12 339h1v1h-1zM15 335h1v1h-1zM81 248h1v1h-1zM704 248h1v1h-1zM30 312h1v2h-1zM770 312h1v1h-1zM700 244h1v1h-1zM93 230h1v2h-1zM861 359h1v1h-1zM690 230h1v1h-1zM771 313h1v1h-1zM63 273h1v1h-1zM723 273h1v1h-1zM884 380h1v1h-1zM23 324h1v1h-1zM785 324h1v1h-1zM719 268h1v1h-1zM38 300h1v1h-1zM759 300h1v2h-1zM273 155h1v1h-1zM327 155h1v1h-1zM99 223h1v1h-1zM685 223h1v1h-1zM782 320h1v1h-1zM71 263h1v1h-1zM715 263h1v1h-1zM860 358h1v1h-1zM65 271h1v1h-1zM49 290h1v1h-1zM752 290h1v1h-1zM41 295h1v2h-1zM756 296h1v1h-1zM710 256h1v1h-1zM77 254h1v1h-1zM871 371h1v1h-1zM90 234h1v2h-1zM96 227h1v1h-1zM688 227h1v1h-1zM86 240h1v2h-1zM696 239h1v2h-1zM282 147h1v1h-1zM821 347h1v1h-1zM870 370h1v1h-1zM37 301h1v1h-1zM52 286h1v1h-1zM748 286h1v1h-1zM862 360h1v2h-1zM87 238h1v2h-1zM863 362h1v1h-1zM62 274h1v1h-1zM724 274h1v1h-1zM35 304h1v1h-1zM73 260h1v1h-1zM713 260h1v1h-1zM855 353h1v1h-1zM693 235h1v1h-1zM695 238h1v1h-1zM89 236h1v1h-1zM697 241h1v1h-1zM872 372h1v1h-1zM857 355h1v1h-1zM34 305h1v2h-1zM763 306h1v1h-1zM864 363h1v1h-1zM26 319h1v1h-1zM781 319h1v1h-1zM865 364h1v1h-1zM762 305h1v1h-1zM856 354h1v1h-1z"/><path fill="#f00" d="M155 181h4v1h-4zM638 181h2v1h-2zM394 220h2v1h-2zM153 180h2v1h-2zM342 180h2v1h-2zM628 180h10v1h-10zM549 151h2v1h-2zM553 151h4v1h-4zM900 405h2v1h-2zM320 174h9v1h-9zM592 174h3v1h-3zM724 279h2v1h-2zM799 350h2v1h-2zM810 350h2v1h-2zM823 350h16v1h-16zM282 134h7v1h-7zM892 401h2v1h-2zM200 209h2v1h-2zM206 209h6v1h-6zM516 156h2v1h-2zM520 156h2v1h-2zM537 156h2v1h-2zM139 176h10v1h-10zM333 176h3v1h-3zM598 176h3v1h-3zM612 176h5v1h-5zM137 177h2v1h-2zM336 177h2v1h-2zM601 177h3v1h-3zM610 177h2v1h-2zM617 177h6v1h-6zM123 179h2v1h-2zM340 179h2v1h-2zM625 179h3v1h-3zM478 168h5v1h-5zM504 168h2v1h-2zM574 168h2v1h-2zM896 403h2v1h-2zM888 399h2v1h-2zM180 196h2v1h-2zM522 157h2v1h-2zM197 208h3v1h-3zM212 208h4v1h-4zM186 201h2v1h-2zM483 169h2v1h-2zM502 169h2v1h-2zM576 169h7v1h-7zM898 404h2v1h-2zM491 171h4v1h-4zM498 171h2v1h-2zM585 171h2v1h-2zM404 229h9v1h-9zM265 136h3v1h-3zM276 136h3v1h-3zM125 178h12v1h-12zM150 178h2v1h-2zM338 178h2v1h-2zM347 178h9v1h-9zM604 178h6v1h-6zM623 178h2v1h-2zM524 158h2v1h-2zM532 158h4v1h-4zM894 402h2v1h-2zM540 154h3v1h-3zM329 175h4v1h-4zM595 175h3v1h-3zM159 182h4v1h-4zM640 182h2v1h-2zM495 172h3v1h-3zM587 172h2v1h-2zM402 228h2v1h-2zM413 228h6v1h-6zM526 159h6v1h-6zM773 328h2v1h-2zM202 210h4v1h-4zM518 155h2v1h-2zM716 272h2v1h-2zM803 352h4v1h-4zM849 352h5v1h-5zM698 270h7v1h-7zM709 270h5v1h-5zM195 207h2v1h-2zM216 207h2v1h-2zM797 349h2v1h-2zM812 349h2v1h-2zM821 349h2v1h-2zM743 295h2v1h-2zM59 256h2v1h-2zM263 137h2v1h-2zM268 137h2v1h-2zM273 137h3v1h-3zM292 137h2v1h-2zM419 227h4v1h-4zM163 183h4v1h-4zM642 183h2v1h-2zM705 269h4v1h-4zM890 400h2v1h-2zM543 153h4v1h-4zM746 297h2v1h-2zM814 348h7v1h-7zM167 184h2v1h-2zM190 204h2v1h-2zM801 351h2v1h-2zM807 351h3v1h-3zM839 351h10v1h-10zM571 166h2v1h-2zM902 406h6v1h-6zM730 284h2v1h-2zM485 170h6v1h-6zM500 170h2v1h-2zM583 170h2v1h-2zM318 173h2v1h-2zM589 173h3v1h-3zM270 138h3v1h-3zM738 291h2v1h-2zM786 341h2v1h-2zM879 392h2v1h-2zM788 342h3v1h-3zM551 150h2v1h-2zM452 197h2v1h-2zM448 200h2v1h-2zM61 255h3v1h-3zM279 135h3v1h-3zM289 135h2v1h-2zM547 152h2v1h-2zM557 152h2v1h-2zM219 205h2v1h-2zM771 327h2v1h-2zM875 389h2v1h-2zM886 398h2v1h-2zM193 206h2v1h-2zM748 298h2v1h-2zM714 271h2v1h-2zM121 181h1v1h-1zM240 181h1v3h-1zM358 181h1v2h-1zM468 180h1v2h-1zM93 219h1v2h-1zM429 220h1v1h-1zM666 220h1v1h-1zM22 307h1v1h-1zM755 306h1v2h-1zM122 180h1v1h-1zM241 179h1v2h-1zM357 180h1v1h-1zM112 192h1v2h-1zM177 193h1v1h-1zM232 193h1v1h-1zM369 193h1v1h-1zM457 193h1v1h-1zM648 192h1v2h-1zM37 280h1v1h-1zM726 280h1v1h-1zM255 151h1v2h-1zM303 151h1v1h-1zM908 404h1v2h-1zM244 173h1v2h-1zM473 174h1v1h-1zM38 279h1v1h-1zM58 257h1v1h-1zM692 257h1v2h-1zM911 400h1v2h-1zM99 208h1v2h-1zM383 209h1v1h-1zM440 209h1v1h-1zM658 208h1v2h-1zM253 155h1v3h-1zM307 156h1v1h-1zM562 156h1v2h-1zM17 314h1v1h-1zM760 314h1v1h-1zM870 382h1v2h-1zM919 381h1v3h-1zM243 175h1v2h-1zM471 176h1v2h-1zM115 188h1v2h-1zM172 188h1v1h-1zM237 187h1v2h-1zM364 188h1v1h-1zM462 188h1v1h-1zM646 188h1v2h-1zM149 177h1v1h-1zM242 177h1v2h-1zM346 177h1v1h-1zM152 179h1v1h-1zM344 179h1v1h-1zM356 179h1v1h-1zM469 179h1v1h-1zM247 167h1v2h-1zM315 168h1v2h-1zM88 226h1v1h-1zM400 226h1v1h-1zM423 226h1v1h-1zM670 225h1v2h-1zM26 299h1v2h-1zM751 300h1v2h-1zM18 312h1v2h-1zM759 312h1v2h-1zM864 370h1v2h-1zM924 370h1v2h-1zM75 240h1v2h-1zM681 240h1v2h-1zM94 218h1v1h-1zM392 218h1v1h-1zM431 218h1v1h-1zM664 217h1v2h-1zM64 254h1v1h-1zM690 253h1v2h-1zM866 374h1v2h-1zM922 374h1v2h-1zM33 285h1v2h-1zM732 285h1v1h-1zM874 388h1v1h-1zM917 387h1v2h-1zM53 263h1v1h-1zM695 263h1v2h-1zM56 259h1v2h-1zM693 259h1v2h-1zM23 305h1v2h-1zM250 161h1v2h-1zM311 161h1v2h-1zM511 161h1v1h-1zM566 161h1v1h-1zM393 219h1v1h-1zM430 219h1v1h-1zM665 219h1v1h-1zM909 403h1v1h-1zM116 187h1v1h-1zM171 187h1v1h-1zM363 187h1v1h-1zM463 187h1v1h-1zM645 186h1v2h-1zM912 398h1v2h-1zM109 196h1v1h-1zM229 196h1v1h-1zM372 196h1v1h-1zM454 196h1v1h-1zM650 196h1v1h-1zM867 376h1v2h-1zM921 376h1v3h-1zM308 157h1v2h-1zM515 157h1v1h-1zM536 157h1v1h-1zM382 208h1v1h-1zM441 208h1v1h-1zM80 234h1v1h-1zM676 233h1v2h-1zM104 201h1v1h-1zM224 201h1v1h-1zM376 201h1v1h-1zM447 201h1v1h-1zM653 200h1v2h-1zM246 169h1v2h-1zM477 169h1v1h-1zM245 171h1v2h-1zM316 170h1v2h-1zM476 170h1v2h-1zM85 229h1v1h-1zM673 229h1v2h-1zM291 136h1v1h-1zM345 178h1v1h-1zM470 178h1v1h-1zM252 158h1v2h-1zM514 158h1v1h-1zM563 158h1v1h-1zM910 402h1v1h-1zM254 153h1v2h-1zM305 153h1v2h-1zM560 154h1v1h-1zM472 175h1v1h-1zM120 182h1v1h-1zM467 182h1v2h-1zM317 172h1v1h-1zM475 172h1v1h-1zM111 194h1v1h-1zM178 194h1v1h-1zM231 194h1v1h-1zM370 194h1v1h-1zM456 194h1v1h-1zM649 194h1v2h-1zM86 228h1v1h-1zM672 228h1v1h-1zM309 159h1v1h-1zM513 159h1v1h-1zM564 159h1v1h-1zM7 327h1v2h-1zM98 210h1v2h-1zM384 210h1v1h-1zM439 210h1v1h-1zM659 210h1v1h-1zM306 155h1v1h-1zM539 155h1v1h-1zM561 155h1v1h-1zM96 214h1v2h-1zM389 215h1v1h-1zM434 215h1v1h-1zM662 215h1v1h-1zM249 163h1v2h-1zM312 163h1v2h-1zM508 164h1v1h-1zM569 164h1v1h-1zM754 305h1v1h-1zM45 272h1v1h-1zM20 310h1v1h-1zM757 309h1v2h-1zM47 270h1v1h-1zM100 206h1v2h-1zM381 206h1v2h-1zM442 207h1v1h-1zM657 206h1v2h-1zM314 166h1v2h-1zM506 167h1v1h-1zM573 167h1v1h-1zM52 264h1v1h-1zM19 311h1v1h-1zM758 311h1v1h-1zM28 295h1v2h-1zM873 386h1v2h-1zM76 238h1v2h-1zM680 239h1v1h-1zM691 255h1v2h-1zM173 189h1v1h-1zM236 189h1v1h-1zM365 189h1v1h-1zM461 189h1v1h-1zM89 225h1v1h-1zM399 224h1v2h-1zM424 225h1v1h-1zM87 227h1v1h-1zM401 227h1v1h-1zM671 227h1v1h-1zM41 276h1v1h-1zM721 276h1v1h-1zM72 245h1v1h-1zM684 244h1v2h-1zM119 183h1v1h-1zM359 183h1v1h-1zM106 199h1v1h-1zM184 199h1v1h-1zM226 199h1v1h-1zM375 199h1v2h-1zM450 199h1v1h-1zM652 199h1v1h-1zM48 269h1v1h-1zM698 269h1v1h-1zM103 202h1v1h-1zM188 202h1v1h-1zM223 202h1v1h-1zM377 202h1v1h-1zM446 202h1v1h-1zM654 202h1v1h-1zM68 250h1v1h-1zM688 250h1v1h-1zM9 324h1v2h-1zM769 325h1v1h-1zM559 153h1v1h-1zM27 297h1v2h-1zM796 348h1v1h-1zM118 184h1v1h-1zM239 184h1v2h-1zM360 184h1v1h-1zM466 184h1v1h-1zM644 184h1v2h-1zM107 198h1v1h-1zM183 198h1v1h-1zM227 198h1v1h-1zM374 198h1v1h-1zM451 198h1v1h-1zM651 197h1v2h-1zM101 204h1v2h-1zM221 204h1v1h-1zM379 204h1v1h-1zM444 204h1v1h-1zM655 203h1v2h-1zM881 393h1v1h-1zM915 391h1v3h-1zM117 185h1v2h-1zM169 185h1v1h-1zM361 185h1v1h-1zM465 185h1v1h-1zM90 223h1v2h-1zM425 224h1v1h-1zM669 224h1v1h-1zM863 368h1v2h-1zM925 368h1v2h-1zM884 396h1v1h-1zM913 396h1v2h-1zM15 316h1v1h-1zM761 315h1v2h-1zM869 380h1v2h-1zM251 160h1v1h-1zM310 160h1v1h-1zM512 160h1v1h-1zM565 160h1v1h-1zM260 141h1v2h-1zM296 140h1v2h-1zM248 165h1v2h-1zM507 165h1v2h-1zM84 230h1v1h-1zM920 379h1v2h-1zM54 262h1v1h-1zM694 261h1v2h-1zM21 308h1v2h-1zM77 237h1v1h-1zM679 237h1v2h-1zM768 324h1v1h-1zM34 284h1v1h-1zM779 333h1v1h-1zM918 384h1v3h-1zM854 353h1v2h-1zM862 366h1v2h-1zM926 366h1v2h-1zM40 277h1v1h-1zM722 277h1v1h-1zM780 334h1v1h-1zM791 343h1v1h-1zM871 384h1v1h-1zM176 192h1v1h-1zM233 192h1v1h-1zM368 192h1v1h-1zM458 192h1v1h-1zM388 214h1v1h-1zM435 214h1v1h-1zM661 213h1v2h-1zM474 173h1v1h-1zM855 355h1v1h-1zM262 138h1v1h-1zM294 138h1v1h-1zM32 287h1v2h-1zM734 287h1v1h-1zM55 261h1v1h-1zM509 163h1v1h-1zM568 163h1v1h-1zM30 291h1v2h-1zM113 191h1v1h-1zM175 191h1v1h-1zM234 191h1v1h-1zM367 191h1v1h-1zM459 191h1v1h-1zM647 190h1v2h-1zM261 139h1v2h-1zM295 139h1v1h-1zM398 223h1v1h-1zM426 223h1v1h-1zM668 223h1v1h-1zM49 268h1v1h-1zM697 267h1v2h-1zM13 319h1v1h-1zM763 318h1v2h-1zM16 315h1v1h-1zM872 385h1v1h-1zM95 216h1v2h-1zM391 217h1v1h-1zM432 217h1v1h-1zM35 282h1v2h-1zM728 282h1v1h-1zM865 372h1v2h-1zM923 372h1v2h-1zM11 321h1v1h-1zM765 321h1v1h-1zM73 243h1v2h-1zM683 243h1v1h-1zM256 149h1v2h-1zM302 149h1v2h-1zM97 212h1v2h-1zM387 213h1v1h-1zM436 213h1v1h-1zM71 246h1v1h-1zM685 246h1v1h-1zM510 162h1v1h-1zM567 162h1v1h-1zM170 186h1v1h-1zM238 186h1v1h-1zM362 186h1v1h-1zM464 186h1v1h-1zM883 395h1v1h-1zM914 394h1v2h-1zM114 190h1v1h-1zM174 190h1v1h-1zM235 190h1v1h-1zM366 190h1v1h-1zM460 190h1v1h-1zM390 216h1v1h-1zM433 216h1v1h-1zM663 216h1v1h-1zM66 252h1v1h-1zM689 251h1v2h-1zM92 221h1v1h-1zM396 221h1v1h-1zM428 221h1v1h-1zM667 221h1v2h-1zM36 281h1v1h-1zM727 281h1v1h-1zM313 165h1v1h-1zM570 165h1v1h-1zM82 232h1v1h-1zM675 232h1v1h-1zM108 197h1v1h-1zM182 197h1v1h-1zM228 197h1v1h-1zM373 197h1v1h-1zM105 200h1v1h-1zM185 200h1v1h-1zM225 200h1v1h-1zM50 267h1v1h-1zM861 364h1v2h-1zM927 364h1v2h-1zM74 242h1v1h-1zM682 242h1v1h-1zM304 152h1v1h-1zM192 205h1v1h-1zM380 205h1v1h-1zM443 205h1v2h-1zM656 205h1v1h-1zM31 289h1v2h-1zM736 289h1v1h-1zM857 357h1v2h-1zM70 247h1v2h-1zM686 247h1v1h-1zM858 359h1v1h-1zM110 195h1v1h-1zM179 195h1v1h-1zM230 195h1v1h-1zM371 195h1v1h-1zM455 195h1v1h-1zM740 292h1v1h-1zM916 389h1v2h-1zM51 265h1v2h-1zM696 265h1v2h-1zM687 248h1v2h-1zM6 329h1v1h-1zM775 329h1v1h-1zM750 299h1v1h-1zM8 326h1v1h-1zM770 326h1v1h-1zM218 206h1v1h-1zM39 278h1v1h-1zM723 278h1v1h-1zM782 336h1v1h-1zM259 143h1v2h-1zM298 143h1v1h-1zM10 322h1v2h-1zM767 323h1v1h-1zM868 378h1v2h-1zM386 212h1v1h-1zM437 212h1v1h-1zM660 211h1v2h-1zM42 275h1v1h-1zM720 275h1v1h-1zM885 397h1v1h-1zM14 317h1v2h-1zM762 317h1v1h-1zM258 145h1v2h-1zM300 146h1v1h-1zM57 258h1v1h-1zM83 231h1v1h-1zM674 231h1v1h-1zM733 286h1v1h-1zM860 362h1v2h-1zM745 296h1v1h-1zM781 335h1v1h-1zM297 142h1v1h-1zM25 301h1v2h-1zM752 302h1v1h-1zM766 322h1v1h-1zM385 211h1v1h-1zM438 211h1v1h-1zM729 283h1v1h-1zM299 144h1v2h-1zM792 344h1v1h-1zM856 356h1v1h-1zM65 253h1v1h-1zM859 360h1v2h-1zM81 233h1v1h-1zM882 394h1v1h-1zM69 249h1v1h-1zM44 273h1v1h-1zM718 273h1v1h-1zM29 293h1v2h-1zM742 294h1v1h-1zM783 337h1v2h-1zM756 308h1v1h-1zM257 147h1v2h-1zM301 147h1v2h-1zM784 339h1v1h-1zM46 271h1v1h-1zM102 203h1v1h-1zM189 203h1v1h-1zM222 203h1v1h-1zM378 203h1v1h-1zM445 203h1v1h-1zM12 320h1v1h-1zM764 320h1v1h-1zM878 391h1v1h-1zM776 330h1v1h-1zM24 303h1v2h-1zM753 303h1v2h-1zM741 293h1v1h-1zM79 235h1v1h-1zM677 235h1v1h-1zM735 288h1v1h-1zM877 390h1v1h-1zM91 222h1v1h-1zM397 222h1v1h-1zM427 222h1v1h-1zM67 251h1v1h-1zM43 274h1v1h-1zM719 274h1v1h-1zM793 345h1v1h-1zM794 346h1v1h-1zM78 236h1v1h-1zM678 236h1v1h-1zM778 332h1v1h-1zM737 290h1v1h-1zM785 340h1v1h-1zM777 331h1v1h-1zM795 347h1v1h-1z"/></g><rect x="6" y="273" width="1" height="51" fill="#ff0000"/><rect x="6" y="278" width="2" height="28" fill="#ff0000"/><rect x="6" y="279" width="1" height="26" fill="#ff4500"/><rect x="10" y="252" width="1" height="31" fill="#ff0000"/><rect x="9" y="270" width="3" height="9" fill="#ff0000"/><rect x="10" y="271" width="1" height="7" fill="#ff4500"/><rect x="14" y="266" width="1" height="10" fill="#ff0000"/><rect x="13" y="269" width="3" height="2" fill="#ff0000"/><rect x="18" y="250" width="1" height="27" fill="#22cb22"/><rect x="17" y="264" width="3" height="6" fill="#22cb22"/><rect x="18" y="265" width="1" height="4" fill="#32cd32"/><rect x="22" y="264" width="1" height="21" fill="#ff0000"/><rect x="21" y="268" width="3" height="2" fill="#ff0000"/><rect x="26" y="249" width="1" height="22" fill="#ff0000"/><rect x="25" y="257" width="3" height="13" fill="#ff0000"/><rect x="26" y="258" width="1" height="11" fill="#ff4500"/><rect x="30" y="221" width="1" height="49" fill="#ff0000"/><rect x="29" y="230" width="3" height="27" fill="#ff0000"/><rect x="30" y="231" width="1" height="25" fill="#ff4500"/><rect x="34" y="224" width="1" height="25" fill="#22cb22"/><rect x="33" y="231" width="3" height="5" fill="#22cb22"/><rect x="34" y="232" width="1" height="3" fill="#32cd32"/><rect x="38" y="229" width="1" height="11" fill="#ff0000"/><rect x="37" y="232" width="3" height="4" fill="#ff0000"/><rect x="38" y="233" width="1" height="2" fill="#ff4500"/><rect x="42" y="236" width="1" height="71" fill="#22cb22"/><rect x="41" y="239" width="3" height="21" fill="#22cb22"/><rect x="42" y="240" width="1" height="19" fill="#32cd32"/><rect x="46" y="240" width="1" height="41" fill="#22cb22"/><rect x="45" y="259" width="3" height="19" fill="#22cb22"/><rect x="46" y="260" width="1" height="17" fill="#32cd32"/><rect x="50" y="243" width="1" height="36" fill="#ff0000"/><rect x="49" y="250" width="3" height="29" fill="#ff0000"/><rect x="50" y="251" width="1" height="27" fill="#ff4500"/><rect x="54" y="236" width="1" height="20" fill="#ff0000"/><rect x="53" y="241" width="3" height="9" fill="#ff0000"/><rect x="54" y="242" width="1" height="7" fill="#ff4500"/><rect x="58" y="237" width="1" height="11" fill="#22cb22"/><rect x="57" y="240" width="3" height="4" fill="#22cb22"/><rect x="58" y="241" width="1" height="2" fill="#32cd32"/><rect x="62" y="229" width="1" height="33" fill="#22cb22"/><rect x="61" y="241" width="3" height="15" fill="#22cb22"/><rect x="62" y="242" width="1" height="13" fill="#32cd32"/><rect x="66" y="230" width="1" height="29" fill="#ff0000"/><rect x="65" y="233" width="3" height="23" fill="#ff0000"/><rect x="66" y="234" width="1" height="21" fill="#ff4500"/><rect x="70" y="199" width="1" height="40" fill="#ff0000"/><rect x="69" y="199" width="3" height="35" fill="#ff0000"/><rect x="70" y="200" width="1" height="33" fill="#ff4500"/><rect x="74" y="172" width="1" height="34" fill="#ff0000"/><rect x="73" y="182" width="3" height="18" fill="#ff0000"/><rect x="74" y="183" width="1" height="16" fill="#ff4500"/><rect x="78" y="183" width="1" height="16" fill="#22cb22"/><rect x="77" y="183" width="3" height="14" fill="#22cb22"/><rect x="78" y="184" width="1" height="12" fill="#32cd32"/><rect x="82" y="173" width="1" height="30" fill="#22cb22"/><rect x="81" y="195" width="3" height="6" fill="#22cb22"/><rect x="82" y="196" width="1" height="4" fill="#32cd32"/><rect x="86" y="177" width="1" height="44" fill="#ff0000"/><rect x="85" y="179" width="3" height="22" fill="#ff0000"/><rect x="86" y="180" width="1" height="20" fill="#ff4500"/><rect x="90" y="135" width="1" height="47" fill="#ff0000"/><rect x="89" y="159" width="3" height="21" fill="#ff0000"/><rect x="90" y="160" width="1" height="19" fill="#ff4500"/><rect x="94" y="137" width="1" height="45" fill="#22cb22"/><rect x="93" y="158" width="3" height="12" fill="#22cb22"/><rect x="94" y="159" width="1" height="10" fill="#32cd32"/><rect x="98" y="146" width="1" height="30" fill="#ff0000"/><rect x="97" y="154" width="3" height="16" fill="#ff0000"/><rect x="98" y="155" width="1" height="14" fill="#ff4500"/><rect x="102" y="152" width="1" height="29" fill="#22cb22"/><rect x="101" y="154" width="3" height="16" fill="#22cb22"/><rect x="102" y="155" width="1" height="14" fill="#32cd32"/><rect x="106" y="165" width="1" height="45" fill="#22cb22"/><rect x="105" y="166" width="3" height="31" fill="#22cb22"/><rect x="106" y="167" width="1" height="29" fill="#32cd32"/><rect x="110" y="173" width="1" height="28" fill="#ff0000"/><rect x="109" y="180" width="3" height="16" fill="#ff0000"/><rect x="110" y="181" width="1" height="14" fill="#ff4500"/><rect x="114" y="154" width="1" height="32" fill="#ff0000"/><rect x="113" y="173" width="3" height="9" fill="#ff0000"/><rect x="114" y="174" width="1" height="7" fill="#ff4500"/><rect x="118" y="157" width="1" height="26" fill="#ff0000"/><rect x="117" y="159" width="3" height="15" fill="#ff0000"/><rect x="118" y="160" width="1" height="13" fill="#ff4500"/><rect x="122" y="142" width="1" height="61" fill="#22cb22"/><rect x="121" y="159" width="3" height="33" fill="#22cb22"/><rect x="122" y="160" width="1" height="31" fill="#32cd32"/><rect x="126" y="178" width="1" height="18" fill="#ff0000"/><rect x="125" y="188" width="3" height="4" fill="#ff0000"/><rect x="126" y="189" width="1" height="2" fill="#ff4500"/><rect x="130" y="187" width="1" height="26" fill="#22cb22"/><rect x="129" y="190" width="3" height="10" fill="#22cb22"/><rect x="130" y="191" width="1" height="8" fill="#32cd32"/><rect x="134" y="179" width="1" height="27" fill="#ff0000"/><rect x="133" y="190" width="3" height="10" fill="#ff0000"/><rect x="134" y="191" width="1" height="8" fill="#ff4500"/><rect x="138" y="163" width="1" height="37" fill="#ff0000"/><rect x="137" y="171" width="3" height="20" fill="#ff0000"/><rect x="138" y="172" width="1" height="18" fill="#ff4500"/><rect x="142" y="153" width="1" height="26" fill="#ff0000"/><rect x="141" y="162" width="3" height="10" fill="#ff0000"/><rect x="142" y="163" width="1" height="8" fill="#ff4500"/><rect x="146" y="159" width="1" height="34" fill="#22cb22"/><rect x="145" y="162" width="3" height="23" fill="#22cb22"/><rect x="146" y="163" width="1" height="21" fill="#32cd32"/><rect x="150" y="179" width="1" height="9" fill="#22cb22"/><rect x="149" y="182" width="3" height="3" fill="#22cb22"/><rect x="150" y="183" width="1" height="1" fill="#32cd32"/><rect x="154" y="170" width="1" height="23" fill="#22cb22"/><rect x="153" y="188" width="3" height="3" fill="#22cb22"/><rect x="154" y="189" width="1" height="1" fill="#32cd32"/><rect x="158" y="167" width="1" height="42" fill="#ff0000"/><rect x="157" y="170" width="3" height="21" fill="#ff0000"/><rect x="158" y="171" width="1" height="19" fill="#ff4500"/><rect x="162" y="162" width="1" height="59" fill="#22cb22"/><rect x="161" y="170" width="3" height="29" fill="#22cb22"/><rect x="162" y="171" width="1" height="27" fill="#32cd32"/><rect x="166" y="192" width="1" height="53" fill="#22cb22"/><rect x="165" y="198" width="3" height="10" fill="#22cb22"/><rect x="166" y="199" width="1" height="8" fill="#32cd32"/><rect x="170" y="190" width="1" height="35" fill="#ff0000"/><rect x="169" y="205" width="3" height="2" fill="#ff0000"/><rect x="174" y="204" width="1" height="23" fill="#22cb22"/><rect x="173" y="205" width="3" height="17" fill="#22cb22"/><rect x="174" y="206" width="1" height="15" fill="#32cd32"/><rect x="178" y="210" width="1" height="29" fill="#22cb22"/><rect x="177" y="227" width="3" height="5" fill="#22cb22"/><rect x="178" y="228" width="1" height="3" fill="#32cd32"/><rect x="182" y="210" width="1" height="47" fill="#22cb22"/><rect x="181" y="231" width="3" height="19" fill="#22cb22"/><rect x="182" y="232" width="1" height="17" fill="#32cd32"/><rect x="186" y="227" width="1" height="25" fill="#ff0000"/><rect x="185" y="233" width="3" height="17" fill="#ff0000"/><rect x="186" y="234" width="1" height="15" fill="#ff4500"/><rect x="190" y="217" width="1" height="30" fill="#22cb22"/><rect x="189" y="233" width="3" height="8" fill="#22cb22"/><rect x="190" y="234" width="1" height="6" fill="#32cd32"/><rect x="194" y="212" width="1" height="37" fill="#ff0000"/><rect x="193" y="212" width="3" height="29" fill="#ff0000"/><rect x="194" y="213" width="1" height="27" fill="#ff4500"/><rect x="198" y="206" width="1" height="11" fill="#ff0000"/><rect x="197" y="207" width="3" height="6" fill="#ff0000"/><rect x="198" y="208" width="1" height="4" fill="#ff4500"/><rect x="202" y="185" width="1" height="32" fill="#ff0000"/><rect x="201" y="188" width="3" height="19" fill="#ff0000"/><rect x="202" y="189" width="1" height="17" fill="#ff4500"/><rect x="206" y="175" width="1" height="22" fill="#ff0000"/><rect x="205" y="180" width="3" height="8" fill="#ff0000"/><rect x="206" y="181" width="1" height="6" fill="#ff4500"/><rect x="210" y="166" width="1" height="22" fill="#ff0000"/><rect x="209" y="177" width="3" height="4" fill="#ff0000"/><rect x="210" y="178" width="1" height="2" fill="#ff4500"/><rect x="214" y="158" width="1" height="30" fill="#ff0000"/><rect x="213" y="164" width="3" height="14" fill="#ff0000"/><rect x="214" y="165" width="1" height="12" fill="#ff4500"/><rect x="218" y="163" width="1" height="22" fill="#22cb22"/><rect x="217" y="164" width="3" height="5" fill="#22cb22"/><rect x="218" y="165" width="1" height="3" fill="#32cd32"/><rect x="222" y="162" width="1" height="11" fill="#ff0000"/><rect x="221" y="166" width="3" height="3" fill="#ff0000"/><rect x="222" y="167" width="1" height="1" fill="#ff4500"/><rect x="226" y="151" width="1" height="16" fill="#ff0000"/><rect x="225" y="153" width="3" height="12" fill="#ff0000"/><rect x="226" y="154" width="1" height="10" fill="#ff4500"/><rect x="230" y="143" width="1" height="30" fill="#22cb22"/><rect x="229" y="153" width="3" height="5" fill="#22cb22"/><rect x="230" y="154" width="1" height="3" fill="#32cd32"/><rect x="234" y="155" width="1" height="28" fill="#22cb22"/><rect x="233" y="157" width="3" height="20" fill="#22cb22"/><rect x="234" y="158" width="1" height="18" fill="#32cd32"/><rect x="238" y="150" width="1" height="33" fill="#ff0000"/><rect x="237" y="173" width="3" height="4" fill="#ff0000"/><rect x="238" y="174" width="1" height="2" fill="#ff4500"/><rect x="242" y="113" width="1" height="63" fill="#ff0000"/><rect x="241" y="115" width="3" height="59" fill="#ff0000"/><rect x="242" y="116" width="1" height="57" fill="#ff4500"/><rect x="246" y="108" width="1" height="11" fill="#ff0000"/><rect x="245" y="114" width="3" height="2" fill="#ff0000"/><rect x="250" y="89" width="1" height="31" fill="#ff0000"/><rect x="249" y="96" width="3" height="17" fill="#ff0000"/><rect x="250" y="97" width="1" height="15" fill="#ff4500"/><rect x="254" y="81" width="1" height="27" fill="#ff0000"/><rect x="253" y="94" width="3" height="3" fill="#ff0000"/><rect x="254" y="95" width="1" height="1" fill="#ff4500"/><rect x="258" y="76" width="1" height="26" fill="#ff0000"/><rect x="257" y="89" width="3" height="6" fill="#ff0000"/><rect x="258" y="90" width="1" height="4" fill="#ff4500"/><rect x="262" y="47" width="1" height="45" fill="#ff0000"/><rect x="261" y="71" width="3" height="19" fill="#ff0000"/><rect x="262" y="72" width="1" height="17" fill="#ff4500"/><rect x="266" y="68" width="1" height="110" fill="#22cb22"/><rect x="265" y="71" width="3" height="101" fill="#22cb22"/><rect x="266" y="72" width="1" height="99" fill="#32cd32"/><rect x="270" y="167" width="1" height="23" fill="#22cb22"/><rect x="269" y="171" width="3" height="18" fill="#22cb22"/><rect x="270" y="172" width="1" height="16" fill="#32cd32"/><rect x="274" y="151" width="1" height="37" fill="#ff0000"/><rect x="273" y="153" width="3" height="31" fill="#ff0000"/><rect x="274" y="154" width="1" height="29" fill="#ff4500"/><rect x="278" y="138" width="1" height="38" fill="#ff0000"/><rect x="277" y="139" width="3" height="15" fill="#ff0000"/><rect x="278" y="140" width="1" height="13" fill="#ff4500"/><rect x="282" y="127" width="1" height="34" fill="#22cb22"/><rect x="281" y="139" width="3" height="8" fill="#22cb22"/><rect x="282" y="140" width="1" height="6" fill="#32cd32"/><rect x="286" y="138" width="1" height="31" fill="#ff0000"/><rect x="285" y="145" width="3" height="2" fill="#ff0000"/><rect x="290" y="139" width="1" height="91" fill="#22cb22"/><rect x="289" y="145" width="3" height="66" fill="#22cb22"/><rect x="290" y="146" width="1" height="64" fill="#32cd32"/><rect x="294" y="196" width="1" height="20" fill="#ff0000"/><rect x="293" y="197" width="3" height="13" fill="#ff0000"/><rect x="294" y="198" width="1" height="11" fill="#ff4500"/><rect x="298" y="182" width="1" height="41" fill="#22cb22"/><rect x="297" y="194" width="3" height="14" fill="#22cb22"/><rect x="298" y="195" width="1" height="12" fill="#32cd32"/><rect x="302" y="182" width="1" height="48" fill="#ff0000"/><rect x="301" y="193" width="3" height="16" fill="#ff0000"/><rect x="302" y="194" width="1" height="14" fill="#ff4500"/><rect x="306" y="171" width="1" height="37" fill="#ff0000"/><rect x="305" y="186" width="3" height="8" fill="#ff0000"/><rect x="306" y="187" width="1" height="6" fill="#ff4500"/><rect x="310" y="152" width="1" height="39" fill="#ff0000"/><rect x="309" y="160" width="3" height="27" fill="#ff0000"/><rect x="310" y="161" width="1" height="25" fill="#ff4500"/><rect x="314" y="145" width="1" height="37" fill="#22cb22"/><rect x="313" y="161" width="3" height="9" fill="#22cb22"/><rect x="314" y="162" width="1" height="7" fill="#32cd32"/><rect x="318" y="157" width="1" height="13" fill="#ff0000"/><rect x="317" y="165" width="3" height="5" fill="#ff0000"/><rect x="318" y="166" width="1" height="3" fill="#ff4500"/><rect x="322" y="157" width="1" height="33" fill="#22cb22"/><rect x="321" y="167" width="3" height="13" fill="#22cb22"/><rect x="322" y="168" width="1" height="11" fill="#32cd32"/><rect x="326" y="164" width="1" height="24" fill="#ff0000"/><rect x="325" y="170" width="3" height="10" fill="#ff0000"/><rect x="326" y="171" width="1" height="8" fill="#ff4500"/><rect x="330" y="165" width="1" height="26" fill="#22cb22"/><rect x="329" y="170" width="3" height="19" fill="#22cb22"/><rect x="330" y="171" width="1" height="17" fill="#32cd32"/><rect x="334" y="122" width="1" height="72" fill="#ff0000"/><rect x="333" y="148" width="3" height="41" fill="#ff0000"/><rect x="334" y="149" width="1" height="39" fill="#ff4500"/><rect x="338" y="143" width="1" height="42" fill="#22cb22"/><rect x="337" y="147" width="3" height="25" fill="#22cb22"/><rect x="338" y="148" width="1" height="23" fill="#32cd32"/><rect x="342" y="165" width="1" height="8" fill="#ff0000"/><rect x="341" y="169" width="3" height="3" fill="#ff0000"/><rect x="342" y="170" width="1" height="1" fill="#ff4500"/><rect x="346" y="166" width="1" height="26" fill="#ff0000"/><rect x="345" y="169" width="3" height="13" fill="#ff0000"/><rect x="346" y="170" width="1" height="11" fill="#ff4500"/><rect x="350" y="165" width="1" height="49" fill="#22cb22"/><rect x="349" y="169" width="3" height="33" fill="#22cb22"/><rect x="350" y="170" width="1" height="31" fill="#32cd32"/><rect x="354" y="201" width="1" height="47" fill="#22cb22"/><rect x="353" y="201" width="3" height="29" fill="#22cb22"/><rect x="354" y="202" width="1" height="27" fill="#32cd32"/><rect x="358" y="226" width="1" height="32" fill="#22cb22"/><rect x="357" y="229" width="3" height="26" fill="#22cb22"/><rect x="358" y="230" width="1" height="24" fill="#32cd32"/><rect x="362" y="221" width="1" height="34" fill="#ff0000"/><rect x="361" y="226" width="3" height="29" fill="#ff0000"/><rect x="362" y="227" width="1" height="27" fill="#ff4500"/><rect x="366" y="223" width="1" height="10" fill="#22cb22"/><rect x="365" y="226" width="3" height="4" fill="#22cb22"/><rect x="366" y="227" width="1" height="2" fill="#32cd32"/><rect x="370" y="213" width="1" height="20" fill="#ff0000"/><rect x="369" y="219" width="3" height="3" fill="#ff0000"/><rect x="370" y="220" width="1" height="1" fill="#ff4500"/><rect x="374" y="209" width="1" height="33" fill="#22cb22"/><rect x="373" y="219" width="3" height="18" fill="#22cb22"/><rect x="374" y="220" width="1" height="16" fill="#32cd32"/><rect x="378" y="222" width="1" height="25" fill="#ff0000"/><rect x="377" y="234" width="3" height="3" fill="#ff0000"/><rect x="378" y="235" width="1" height="1" fill="#ff4500"/><rect x="382" y="230" width="1" height="42" fill="#22cb22"/><rect x="381" y="234" width="3" height="5" fill="#22cb22"/><rect x="382" y="235" width="1" height="3" fill="#32cd32"/><rect x="386" y="230" width="1" height="9" fill="#ff0000"/><rect x="385" y="232" width="3" height="7" fill="#ff0000"/><rect x="386" y="233" width="1" height="5" fill="#ff4500"/><rect x="390" y="238" width="1" height="4" fill="#22cb22"/><rect x="389" y="239" width="3" height="1" fill="#22cb22"/><rect x="394" y="211" width="1" height="30" fill="#ff0000"/><rect x="393" y="213" width="3" height="22" fill="#ff0000"/><rect x="394" y="214" width="1" height="20" fill="#ff4500"/><rect x="398" y="210" width="1" height="28" fill="#ff0000"/><rect x="397" y="211" width="3" height="3" fill="#ff0000"/><rect x="398" y="212" width="1" height="1" fill="#ff4500"/><rect x="402" y="203" width="1" height="31" fill="#22cb22"/><rect x="401" y="211" width="3" height="17" fill="#22cb22"/><rect x="402" y="212" width="1" height="15" fill="#32cd32"/><rect x="406" y="216" width="1" height="24" fill="#ff0000"/><rect x="405" y="221" width="3" height="7" fill="#ff0000"/><rect x="406" y="222" width="1" height="5" fill="#ff4500"/><rect x="410" y="211" width="1" height="35" fill="#22cb22"/><rect x="409" y="221" width="3" height="5" fill="#22cb22"/><rect x="410" y="222" width="1" height="3" fill="#32cd32"/><rect x="414" y="224" width="1" height="5" fill="#22cb22"/><rect x="413" y="225" width="3" height="3" fill="#22cb22"/><rect x="414" y="226" width="1" height="1" fill="#32cd32"/><rect x="418" y="223" width="1" height="20" fill="#22cb22"/><rect x="417" y="229" width="3" height="2" fill="#22cb22"/><rect x="422" y="224" width="1" height="23" fill="#ff0000"/><rect x="421" y="226" width="3" height="5" fill="#ff0000"/><rect x="422" y="227" width="1" height="3" fill="#ff4500"/><rect x="426" y="177" width="1" height="50" fill="#ff0000"/><rect x="425" y="178" width="3" height="49" fill="#ff0000"/><rect x="426" y="179" width="1" height="47" fill="#ff4500"/><rect x="430" y="163" width="1" height="28" fill="#ff0000"/><rect x="429" y="171" width="3" height="8" fill="#ff0000"/><rect x="430" y="172" width="1" height="6" fill="#ff4500"/><rect x="434" y="164" width="1" height="19" fill="#22cb22"/><rect x="433" y="171" width="3" height="6" fill="#22cb22"/><rect x="434" y="172" width="1" height="4" fill="#32cd32"/><rect x="438" y="175" width="1" height="4" fill="#22cb22"/><rect x="437" y="176" width="3" height="2" fill="#22cb22"/><rect x="442" y="152" width="1" height="39" fill="#ff0000"/><rect x="441" y="165" width="3" height="17" fill="#ff0000"/><rect x="442" y="166" width="1" height="15" fill="#ff4500"/><rect x="446" y="137" width="1" height="42" fill="#22cb22"/><rect x="445" y="165" width="3" height="9" fill="#22cb22"/><rect x="446" y="166" width="1" height="7" fill="#32cd32"/><rect x="450" y="163" width="1" height="30" fill="#ff0000"/><rect x="449" y="166" width="3" height="8" fill="#ff0000"/><rect x="450" y="167" width="1" height="6" fill="#ff4500"/><rect x="454" y="162" width="1" height="27" fill="#22cb22"/><rect x="453" y="166" width="3" height="16" fill="#22cb22"/><rect x="454" y="167" width="1" height="14" fill="#32cd32"/><rect x="458" y="171" width="1" height="27" fill="#ff0000"/><rect x="457" y="174" width="3" height="8" fill="#ff0000"/><rect x="458" y="175" width="1" height="6" fill="#ff4500"/><rect x="462" y="165" width="1" height="12" fill="#ff0000"/><rect x="461" y="165" width="3" height="10" fill="#ff0000"/><rect x="462" y="166" width="1" height="8" fill="#ff4500"/><rect x="466" y="138" width="1" height="35" fill="#ff0000"/><rect x="465" y="144" width="3" height="27" fill="#ff0000"/><rect x="466" y="145" width="1" height="25" fill="#ff4500"/><rect x="470" y="142" width="1" height="21" fill="#22cb22"/><rect x="469" y="144" width="3" height="14" fill="#22cb22"/><rect x="470" y="145" width="1" height="12" fill="#32cd32"/><rect x="474" y="156" width="1" height="25" fill="#22cb22"/><rect x="473" y="157" width="3" height="4" fill="#22cb22"/><rect x="474" y="158" width="1" height="2" fill="#32cd32"/><rect x="478" y="136" width="1" height="33" fill="#22cb22"/><rect x="477" y="160" width="3" height="6" fill="#22cb22"/><rect x="478" y="161" width="1" height="4" fill="#32cd32"/><rect x="482" y="152" width="1" height="39" fill="#22cb22"/><rect x="481" y="165" width="3" height="21" fill="#22cb22"/><rect x="482" y="166" width="1" height="19" fill="#32cd32"/><rect x="486" y="183" width="1" height="9" fill="#22cb22"/><rect x="485" y="184" width="3" height="8" fill="#22cb22"/><rect x="486" y="185" width="1" height="6" fill="#32cd32"/><rect x="490" y="161" width="1" height="29" fill="#ff0000"/><rect x="489" y="165" width="3" height="20" fill="#ff0000"/><rect x="490" y="166" width="1" height="18" fill="#ff4500"/><rect x="494" y="161" width="1" height="44" fill="#22cb22"/><rect x="493" y="165" width="3" height="34" fill="#22cb22"/><rect x="494" y="166" width="1" height="32" fill="#32cd32"/><rect x="498" y="166" width="1" height="34" fill="#ff0000"/><rect x="497" y="169" width="3" height="30" fill="#ff0000"/><rect x="498" y="170" width="1" height="28" fill="#ff4500"/><rect x="502" y="157" width="1" height="36" fill="#ff0000"/><rect x="501" y="161" width="3" height="9" fill="#ff0000"/><rect x="502" y="162" width="1" height="7" fill="#ff4500"/><rect x="506" y="116" width="1" height="49" fill="#ff0000"/><rect x="505" y="116" width="3" height="46" fill="#ff0000"/><rect x="506" y="117" width="1" height="44" fill="#ff4500"/><rect x="510" y="116" width="1" height="13" fill="#22cb22"/><rect x="509" y="116" width="3" height="8" fill="#22cb22"/><rect x="510" y="117" width="1" height="6" fill="#32cd32"/><rect x="514" y="102" width="1" height="27" fill="#ff0000"/><rect x="513" y="110" width="3" height="11" fill="#ff0000"/><rect x="514" y="111" width="1" height="9" fill="#ff4500"/><rect x="518" y="109" width="1" height="28" fill="#22cb22"/><rect x="517" y="110" width="3" height="16" fill="#22cb22"/><rect x="518" y="111" width="1" height="14" fill="#32cd32"/><rect x="522" y="122" width="1" height="56" fill="#22cb22"/><rect x="521" y="125" width="3" height="52" fill="#22cb22"/><rect x="522" y="126" width="1" height="50" fill="#32cd32"/><rect x="526" y="170" width="1" height="29" fill="#22cb22"/><rect x="525" y="176" width="3" height="7" fill="#22cb22"/><rect x="526" y="177" width="1" height="5" fill="#32cd32"/><rect x="530" y="154" width="1" height="36" fill="#ff0000"/><rect x="529" y="156" width="3" height="27" fill="#ff0000"/><rect x="530" y="157" width="1" height="25" fill="#ff4500"/><rect x="534" y="151" width="1" height="8" fill="#ff0000"/><rect x="533" y="151" width="3" height="5" fill="#ff0000"/><rect x="534" y="152" width="1" height="3" fill="#ff4500"/><rect x="538" y="153" width="1" height="26" fill="#22cb22"/><rect x="537" y="155" width="3" height="7" fill="#22cb22"/><rect x="538" y="156" width="1" height="5" fill="#32cd32"/><rect x="542" y="138" width="1" height="27" fill="#ff0000"/><rect x="541" y="154" width="3" height="8" fill="#ff0000"/><rect x="542" y="155" width="1" height="6" fill="#ff4500"/><rect x="546" y="142" width="1" height="36" fill="#22cb22"/><rect x="545" y="154" width="3" height="14" fill="#22cb22"/><rect x="546" y="155" width="1" height="12" fill="#32cd32"/><rect x="550" y="154" width="1" height="34" fill="#ff0000"/><rect x="549" y="155" width="3" height="13" fill="#ff0000"/><rect x="550" y="156" width="1" height="11" fill="#ff4500"/><rect x="554" y="153" width="1" height="27" fill="#22cb22"/><rect x="553" y="155" width="3" height="24" fill="#22cb22"/><rect x="554" y="156" width="1" height="22" fill="#32cd32"/><rect x="558" y="176" width="1" height="8" fill="#ff0000"/><rect x="557" y="177" width="3" height="2" fill="#ff0000"/><rect x="562" y="166" width="1" height="24" fill="#ff0000"/><rect x="561" y="173" width="3" height="10" fill="#ff0000"/><rect x="562" y="174" width="1" height="8" fill="#ff4500"/><rect x="566" y="156" width="1" height="20" fill="#ff0000"/><rect x="565" y="173" width="3" height="2" fill="#ff0000"/><rect x="570" y="147" width="1" height="31" fill="#ff0000"/><rect x="569" y="172" width="3" height="2" fill="#ff0000"/><rect x="574" y="165" width="1" height="17" fill="#22cb22"/><rect x="573" y="172" width="3" height="4" fill="#22cb22"/><rect x="574" y="173" width="1" height="2" fill="#32cd32"/><rect x="578" y="170" width="1" height="34" fill="#22cb22"/><rect x="577" y="175" width="3" height="16" fill="#22cb22"/><rect x="578" y="176" width="1" height="14" fill="#32cd32"/><rect x="582" y="185" width="1" height="6" fill="#ff0000"/><rect x="581" y="188" width="3" height="3" fill="#ff0000"/><rect x="582" y="189" width="1" height="1" fill="#ff4500"/><rect x="586" y="173" width="1" height="20" fill="#ff0000"/><rect x="585" y="173" width="3" height="15" fill="#ff0000"/><rect x="586" y="174" width="1" height="13" fill="#ff4500"/><rect x="590" y="159" width="1" height="20" fill="#ff0000"/><rect x="589" y="162" width="3" height="12" fill="#ff0000"/><rect x="590" y="163" width="1" height="10" fill="#ff4500"/><rect x="594" y="158" width="1" height="28" fill="#22cb22"/><rect x="593" y="162" width="3" height="7" fill="#22cb22"/><rect x="594" y="163" width="1" height="5" fill="#32cd32"/><rect x="598" y="166" width="1" height="51" fill="#22cb22"/><rect x="597" y="168" width="3" height="48" fill="#22cb22"/><rect x="598" y="169" width="1" height="46" fill="#32cd32"/><rect x="602" y="171" width="1" height="48" fill="#ff0000"/><rect x="601" y="172" width="3" height="44" fill="#ff0000"/><rect x="602" y="173" width="1" height="42" fill="#ff4500"/><rect x="606" y="171" width="1" height="4" fill="#ff0000"/><rect x="605" y="171" width="3" height="2" fill="#ff0000"/><rect x="610" y="161" width="1" height="19" fill="#ff0000"/><rect x="609" y="162" width="3" height="13" fill="#ff0000"/><rect x="610" y="163" width="1" height="11" fill="#ff4500"/><rect x="614" y="161" width="1" height="17" fill="#22cb22"/><rect x="613" y="162" width="3" height="12" fill="#22cb22"/><rect x="614" y="163" width="1" height="10" fill="#32cd32"/><rect x="618" y="163" width="1" height="18" fill="#22cb22"/><rect x="617" y="173" width="3" height="6" fill="#22cb22"/><rect x="618" y="174" width="1" height="4" fill="#32cd32"/><rect x="622" y="162" width="1" height="23" fill="#ff0000"/><rect x="621" y="168" width="3" height="11" fill="#ff0000"/><rect x="622" y="169" width="1" height="9" fill="#ff4500"/><rect x="626" y="156" width="1" height="42" fill="#22cb22"/><rect x="625" y="168" width="3" height="27" fill="#22cb22"/><rect x="626" y="169" width="1" height="25" fill="#32cd32"/><rect x="630" y="191" width="1" height="8" fill="#ff0000"/><rect x="629" y="191" width="3" height="4" fill="#ff0000"/><rect x="630" y="192" width="1" height="2" fill="#ff4500"/><rect x="634" y="179" width="1" height="17" fill="#ff0000"/><rect x="633" y="184" width="3" height="5" fill="#ff0000"/><rect x="634" y="185" width="1" height="3" fill="#ff4500"/><rect x="638" y="184" width="1" height="21" fill="#22cb22"/><rect x="637" y="184" width="3" height="21" fill="#22cb22"/><rect x="638" y="185" width="1" height="19" fill="#32cd32"/><rect x="642" y="185" width="1" height="20" fill="#ff0000"/><rect x="641" y="187" width="3" height="18" fill="#ff0000"/><rect x="642" y="188" width="1" height="16" fill="#ff4500"/><rect x="646" y="183" width="1" height="80" fill="#22cb22"/><rect x="645" y="187" width="3" height="75" fill="#22cb22"/><rect x="646" y="188" width="1" height="73" fill="#32cd32"/><rect x="650" y="258" width="1" height="39" fill="#22cb22"/><rect x="649" y="261" width="3" height="27" fill="#22cb22"/><rect x="650" y="262" width="1" height="25" fill="#32cd32"/><rect x="654" y="281" width="1" height="10" fill="#ff0000"/><rect x="653" y="287" width="3" height="1" fill="#ff0000"/><rect x="658" y="269" width="1" height="29" fill="#ff0000"/><rect x="657" y="274" width="3" height="13" fill="#ff0000"/><rect x="658" y="275" width="1" height="11" fill="#ff4500"/><rect x="662" y="265" width="1" height="25" fill="#22cb22"/><rect x="661" y="273" width="3" height="2" fill="#22cb22"/><rect x="666" y="240" width="1" height="35" fill="#ff0000"/><rect x="665" y="245" width="3" height="30" fill="#ff0000"/><rect x="666" y="246" width="1" height="28" fill="#ff4500"/><rect x="670" y="243" width="1" height="14" fill="#22cb22"/><rect x="669" y="245" width="3" height="8" fill="#22cb22"/><rect x="670" y="246" width="1" height="6" fill="#32cd32"/><rect x="674" y="232" width="1" height="20" fill="#ff0000"/><rect x="673" y="242" width="3" height="10" fill="#ff0000"/><rect x="674" y="243" width="1" height="8" fill="#ff4500"/><rect x="678" y="242" width="1" height="7" fill="#22cb22"/><rect x="677" y="242" width="3" height="5" fill="#22cb22"/><rect x="678" y="243" width="1" height="3" fill="#32cd32"/><rect x="682" y="239" width="1" height="23" fill="#22cb22"/><rect x="681" y="246" width="3" height="7" fill="#22cb22"/><rect x="682" y="247" width="1" height="5" fill="#32cd32"/><rect x="686" y="252" width="1" height="32" fill="#22cb22"/><rect x="685" y="252" width="3" height="28" fill="#22cb22"/><rect x="686" y="253" width="1" height="26" fill="#32cd32"/><rect x="690" y="274" width="1" height="17" fill="#22cb22"/><rect x="689" y="279" width="3" height="11" fill="#22cb22"/><rect x="690" y="280" width="1" height="9" fill="#32cd32"/><rect x="694" y="283" width="1" height="22" fill="#22cb22"/><rect x="693" y="289" width="3" height="12" fill="#22cb22"/><rect x="694" y="290" width="1" height="10" fill="#32cd32"/><rect x="698" y="286" width="1" height="28" fill="#ff0000"/><rect x="697" y="288" width="3" height="13" fill="#ff0000"/><rect x="698" y="289" width="1" height="11" fill="#ff4500"/><rect x="702" y="271" width="1" height="20" fill="#ff0000"/><rect x="701" y="273" width="3" height="16" fill="#ff0000"/><rect x="702" y="274" width="1" height="14" fill="#ff4500"/><rect x="706" y="270" width="1" height="13" fill="#ff0000"/><rect x="705" y="271" width="3" height="7" fill="#ff0000"/><rect x="706" y="272" width="1" height="5" fill="#ff4500"/><rect x="710" y="240" width="1" height="54" fill="#22cb22"/><rect x="709" y="272" width="3" height="17" fill="#22cb22"/><rect x="710" y="273" width="1" height="15" fill="#32cd32"/><rect x="714" y="271" width="1" height="34" fill="#22cb22"/><rect x="713" y="288" width="3" height="7" fill="#22cb22"/><rect x="714" y="289" width="1" height="5" fill="#32cd32"/><rect x="718" y="283" width="1" height="44" fill="#22cb22"/><rect x="717" y="294" width="3" height="23" fill="#22cb22"/><rect x="718" y="295" width="1" height="21" fill="#32cd32"/><rect x="722" y="292" width="1" height="38" fill="#ff0000"/><rect x="721" y="297" width="3" height="21" fill="#ff0000"/><rect x="722" y="298" width="1" height="19" fill="#ff4500"/><rect x="726" y="291" width="1" height="7" fill="#ff0000"/><rect x="725" y="291" width="3" height="7" fill="#ff0000"/><rect x="726" y="292" width="1" height="5" fill="#ff4500"/><rect x="730" y="288" width="1" height="24" fill="#ff0000"/><rect x="729" y="291" width="3" height="2" fill="#ff0000"/><rect x="734" y="285" width="1" height="37" fill="#22cb22"/><rect x="733" y="292" width="3" height="9" fill="#22cb22"/><rect x="734" y="293" width="1" height="7" fill="#32cd32"/><rect x="738" y="293" width="1" height="27" fill="#22cb22"/><rect x="737" y="300" width="3" height="3" fill="#22cb22"/><rect x="738" y="301" width="1" height="1" fill="#32cd32"/><rect x="742" y="293" width="1" height="26" fill="#22cb22"/><rect x="741" y="302" width="3" height="16" fill="#22cb22"/><rect x="742" y="303" width="1" height="14" fill="#32cd32"/><rect x="746" y="314" width="1" height="21" fill="#22cb22"/><rect x="745" y="317" width="3" height="14" fill="#22cb22"/><rect x="746" y="318" width="1" height="12" fill="#32cd32"/><rect x="750" y="326" width="1" height="9" fill="#22cb22"/><rect x="749" y="329" width="3" height="5" fill="#22cb22"/><rect x="750" y="330" width="1" height="3" fill="#32cd32"/><rect x="754" y="336" width="1" height="33" fill="#22cb22"/><rect x="753" y="338" width="3" height="23" fill="#22cb22"/><rect x="754" y="339" width="1" height="21" fill="#32cd32"/><rect x="758" y="354" width="1" height="28" fill="#22cb22"/><rect x="757" y="361" width="3" height="9" fill="#22cb22"/><rect x="758" y="362" width="1" height="7" fill="#32cd32"/><rect x="762" y="353" width="1" height="34" fill="#ff0000"/><rect x="761" y="355" width="3" height="15" fill="#ff0000"/><rect x="762" y="356" width="1" height="13" fill="#ff4500"/><rect x="766" y="335" width="1" height="27" fill="#ff0000"/><rect x="765" y="351" width="3" height="5" fill="#ff0000"/><rect x="766" y="352" width="1" height="3" fill="#ff4500"/><rect x="770" y="339" width="1" height="16" fill="#22cb22"/><rect x="769" y="351" width="3" height="1" fill="#22cb22"/><rect x="774" y="347" width="1" height="5" fill="#ff0000"/><rect x="773" y="351" width="3" height="1" fill="#ff0000"/><rect x="778" y="338" width="1" height="29" fill="#ff0000"/><rect x="777" y="340" width="3" height="10" fill="#ff0000"/><rect x="778" y="341" width="1" height="8" fill="#ff4500"/><rect x="782" y="339" width="1" height="25" fill="#22cb22"/><rect x="781" y="341" width="3" height="9" fill="#22cb22"/><rect x="782" y="342" width="1" height="7" fill="#32cd32"/><rect x="786" y="346" width="1" height="25" fill="#22cb22"/><rect x="785" y="349" width="3" height="11" fill="#22cb22"/><rect x="786" y="350" width="1" height="9" fill="#32cd32"/><rect x="790" y="327" width="1" height="47" fill="#ff0000"/><rect x="789" y="334" width="3" height="25" fill="#ff0000"/><rect x="790" y="335" width="1" height="23" fill="#ff4500"/><rect x="794" y="332" width="1" height="29" fill="#22cb22"/><rect x="793" y="333" width="3" height="25" fill="#22cb22"/><rect x="794" y="334" width="1" height="23" fill="#32cd32"/><rect x="798" y="357" width="1" height="10" fill="#22cb22"/><rect x="797" y="357" width="3" height="9" fill="#22cb22"/><rect x="798" y="358" width="1" height="7" fill="#32cd32"/><rect x="802" y="342" width="1" height="26" fill="#ff0000"/><rect x="801" y="351" width="3" height="10" fill="#ff0000"/><rect x="802" y="352" width="1" height="8" fill="#ff4500"/><rect x="806" y="330" width="1" height="26" fill="#ff0000"/><rect x="805" y="341" width="3" height="12" fill="#ff0000"/><rect x="806" y="342" width="1" height="10" fill="#ff4500"/><rect x="810" y="321" width="1" height="28" fill="#22cb22"/><rect x="809" y="341" width="3" height="4" fill="#22cb22"/><rect x="810" y="342" width="1" height="2" fill="#32cd32"/><rect x="814" y="326" width="1" height="20" fill="#ff0000"/><rect x="813" y="330" width="3" height="15" fill="#ff0000"/><rect x="814" y="331" width="1" height="13" fill="#ff4500"/><rect x="818" y="330" width="1" height="30" fill="#22cb22"/><rect x="817" y="330" width="3" height="26" fill="#22cb22"/><rect x="818" y="331" width="1" height="24" fill="#32cd32"/><rect x="822" y="353" width="1" height="5" fill="#22cb22"/><rect x="821" y="355" width="3" height="3" fill="#22cb22"/><rect x="822" y="356" width="1" height="1" fill="#32cd32"/><rect x="826" y="350" width="1" height="19" fill="#ff0000"/><rect x="825" y="362" width="3" height="1" fill="#ff0000"/><rect x="830" y="355" width="1" height="19" fill="#ff0000"/><rect x="829" y="360" width="3" height="3" fill="#ff0000"/><rect x="830" y="361" width="1" height="1" fill="#ff4500"/><rect x="834" y="340" width="1" height="31" fill="#ff0000"/><rect x="833" y="346" width="3" height="15" fill="#ff0000"/><rect x="834" y="347" width="1" height="13" fill="#ff4500"/><rect x="838" y="339" width="1" height="26" fill="#22cb22"/><rect x="837" y="347" width="3" height="14" fill="#22cb22"/><rect x="838" y="348" width="1" height="12" fill="#32cd32"/><rect x="842" y="343" width="1" height="24" fill="#ff0000"/><rect x="841" y="345" width="3" height="16" fill="#ff0000"/><rect x="842" y="346" width="1" height="14" fill="#ff4500"/><rect x="846" y="343" width="1" height="6" fill="#22cb22"/><rect x="845" y="344" width="3" height="3" fill="#22cb22"/><rect x="846" y="345" width="1" height="1" fill="#32cd32"/><rect x="850" y="347" width="1" height="26" fill="#22cb22"/><rect x="849" y="348" width="3" height="16" fill="#22cb22"/><rect x="850" y="349" width="1" height="14" fill="#32cd32"/><rect x="854" y="362" width="1" height="42" fill="#22cb22"/><rect x="853" y="363" width="3" height="41" fill="#22cb22"/><rect x="854" y="364" width="1" height="39" fill="#32cd32"/><rect x="858" y="395" width="1" height="20" fill="#22cb22"/><rect x="857" y="403" width="3" height="10" fill="#22cb22"/><rect x="858" y="404" width="1" height="8" fill="#32cd32"/><rect x="862" y="398" width="1" height="57" fill="#22cb22"/><rect x="861" y="412" width="3" height="32" fill="#22cb22"/><rect x="862" y="413" width="1" height="30" fill="#32cd32"/><rect x="866" y="442" width="1" height="32" fill="#22cb22"/><rect x="865" y="443" width="3" height="18" fill="#22cb22"/><rect x="866" y="444" width="1" height="16" fill="#32cd32"/><rect x="870" y="455" width="1" height="7" fill="#ff0000"/><rect x="869" y="458" width="3" height="3" fill="#ff0000"/><rect x="870" y="459" width="1" height="1" fill="#ff4500"/><rect x="874" y="424" width="1" height="35" fill="#ff0000"/><rect x="873" y="425" width="3" height="33" fill="#ff0000"/><rect x="874" y="426" width="1" height="31" fill="#ff4500"/><rect x="878" y="395" width="1" height="34" fill="#ff0000"/><rect x="877" y="403" width="3" height="23" fill="#ff0000"/><rect x="878" y="404" width="1" height="21" fill="#ff4500"/><rect x="882" y="397" width="1" height="15" fill="#ff0000"/><rect x="881" y="398" width="3" height="6" fill="#ff0000"/><rect x="882" y="399" width="1" height="4" fill="#ff4500"/><rect x="886" y="390" width="1" height="20" fill="#22cb22"/><rect x="885" y="397" width="3" height="9" fill="#22cb22"/><rect x="886" y="398" width="1" height="7" fill="#32cd32"/><rect x="890" y="377" width="1" height="42" fill="#ff0000"/><rect x="889" y="377" width="3" height="29" fill="#ff0000"/><rect x="890" y="378" width="1" height="27" fill="#ff4500"/><rect x="894" y="373" width="1" height="6" fill="#ff0000"/><rect x="893" y="375" width="3" height="3" fill="#ff0000"/><rect x="894" y="376" width="1" height="1" fill="#ff4500"/><rect x="898" y="372" width="1" height="17" fill="#22cb22"/><rect x="897" y="376" width="3" height="9" fill="#22cb22"/><rect x="898" y="377" width="1" height="7" fill="#32cd32"/><rect x="902" y="361" width="1" height="27" fill="#ff0000"/><rect x="901" y="378" width="3" height="7" fill="#ff0000"/><rect x="902" y="379" width="1" height="5" fill="#ff4500"/><rect x="906" y="346" width="1" height="33" fill="#ff0000"/><rect x="905" y="349" width="3" height="30" fill="#ff0000"/><rect x="906" y="350" width="1" height="28" fill="#ff4500"/><rect x="910" y="329" width="1" height="27" fill="#ff0000"/><rect x="909" y="334" width="3" height="16" fill="#ff0000"/><rect x="910" y="335" width="1" height="14" fill="#ff4500"/><rect x="914" y="297" width="1" height="40" fill="#ff0000"/><rect x="913" y="314" width="3" height="21" fill="#ff0000"/><rect x="914" y="315" width="1" height="19" fill="#ff4500"/><rect x="918" y="303" width="1" height="13" fill="#ff0000"/><rect x="917" y="306" width="3" height="9" fill="#ff0000"/><rect x="918" y="307" width="1" height="7" fill="#ff4500"/><rect x="922" y="309" width="1" height="13" fill="#22cb22"/><rect x="921" y="310" width="3" height="8" fill="#22cb22"/><rect x="922" y="311" width="1" height="6" fill="#32cd32"/><rect x="926" y="315" width="1" height="3" fill="#ff0000"/><rect x="925" y="317" width="3" height="1" fill="#ff0000"/><rect x="5" y="330" width="6" height="6" fill="#0f0"/><rect x="7" y="332" width="2" height="2" fill="#fff"/><rect x="1162" y="330" width="6" height="6" fill="#0f0"/><rect x="1164" y="332" width="2" height="2" fill="#fff"/><rect x="5" y="405" width="6" height="6" fill="#00f"/><rect x="7" y="407" width="2" height="2" fill="#fff"/><rect x="1162" y="405" width="6" height="6" fill="#00f"/><rect x="1164" y="407" width="2" height="2" fill="#fff"/><rect x="5" y="476" width="6" height="6" fill="#00f"/><rect x="7" y="478" width="2" height="2" fill="#fff"/><rect x="1162" y="476" width="6" height="6" fill="#00f"/><rect x="1164" y="478" width="2" height="2" fill="#fff"/><rect x="1169" y="488" width="1" height="1" fill="#000"/><rect x="1169" y="533" width="1" height="1" fill="#000"/><rect x="1169" y="569" width="1" height="1" fill="#000"/><rect x="1169" y="574" width="1" height="1" fill="#000"/><rect x="1169" y="599" width="1" height="1" fill="#000"/><rect x="1169" y="633" width="1" height="1" fill="#000"/><rect x="1169" y="658" width="1" height="1" fill="#000"/><rect x="6" y="660" width="1" height="3" fill="#000"/><rect x="70" y="660" width="1" height="3" fill="#000"/><rect x="134" y="660" width="1" height="3" fill="#000"/><rect x="198" y="660" width="1" height="3" fill="#000"/><rect x="262" y="660" width="1" height="3" fill="#000"/><rect x="326" y="660" width="1" height="3" fill="#000"/><rect x="390" y="660" width="1" height="3" fill="#000"/><rect x="454" y="660" width="1" height="3" fill="#000"/><rect x="518" y="660" width="1" height="3" fill="#000"/><rect x="582" y="660" width="1" height="3" fill="#000"/><rect x="646" y="660" width="1" height="3" fill="#000"/><rect x="710" y="660" width="1" height="3" fill="#000"/><rect x="774" y="660" width="1" height="3" fill="#000"/><rect x="838" y="660" width="1" height="3" fill="#000"/><rect x="902" y="660" width="1" height="3" fill="#000"/></svg>
<div class="abs" style="left:9px;top:44px;width:52px;height:25px;background:linear-gradient(rgb(255,88,88),rgb(219,49,49));"></div>
<div class="abs" style="left:9px;top:68px;width:109px;height:33px;background:linear-gradient(rgb(220,50,50),rgb(173,-2,-2));"></div>
<div class="abs" style="left:9px;top:44px;width:52px;height:1px;background:#b40000"></div>
<div class="abs" style="left:9px;top:44px;width:1px;height:57px;background:#b40000"></div>
<div class="abs" style="left:60px;top:44px;width:1px;height:25px;background:#b40000"></div>
<div class="abs" style="left:60px;top:68px;width:58px;height:1px;background:#b40000"></div>
<div class="abs" style="left:117px;top:68px;width:1px;height:33px;background:#a00000"></div>
<div class="abs" style="left:9px;top:100px;width:109px;height:1px;background:#9a0000"></div>
<div class="abs" style="left:13px;top:67px;width:44px;height:1px;background:#8c0000"></div>
<div class="abs" style="left:13px;top:68px;width:44px;height:1px;background:#ff8a8a"></div>
<div class="abs" style="left:176px;top:44px;width:52px;height:25px;background:linear-gradient(rgb(255,88,88),rgb(219,49,49));"></div>
<div class="abs" style="left:120px;top:68px;width:108px;height:33px;background:linear-gradient(rgb(220,50,50),rgb(173,-2,-2));"></div>
<div class="abs" style="left:176px;top:44px;width:52px;height:1px;background:#b40000"></div>
<div class="abs" style="left:227px;top:44px;width:1px;height:57px;background:#b40000"></div>
<div class="abs" style="left:176px;top:44px;width:1px;height:25px;background:#b40000"></div>
<div class="abs" style="left:120px;top:68px;width:57px;height:1px;background:#b40000"></div>
<div class="abs" style="left:120px;top:68px;width:1px;height:33px;background:#b40000"></div>
<div class="abs" style="left:120px;top:100px;width:108px;height:1px;background:#9a0000"></div>
<div class="abs" style="left:180px;top:67px;width:44px;height:1px;background:#8c0000"></div>
<div class="abs" style="left:180px;top:68px;width:44px;height:1px;background:#ff8a8a"></div>
<div class="abs" style="left:63px;top:44px;width:111px;height:22px;box-sizing:border-box;border:1px solid #a6a9b2;background:#fff"></div>
<div class="abs" style="left:84px;top:45px;width:1px;height:20px;background:#a6a9b2"></div>
<div class="abs" style="left:152px;top:45px;width:1px;height:20px;background:#a6a9b2"></div>
<div class="abs" style="left:65px;top:46px;width:18px;height:18px;background:linear-gradient(#f2f2f2 0%,#e8e8e8 45%,#dcdcdc 46%,#d0d0d0 100%)"></div>
<div class="abs" style="left:154px;top:46px;width:18px;height:18px;background:linear-gradient(#f2f2f2 0%,#e8e8e8 45%,#dcdcdc 46%,#d0d0d0 100%)"></div>
<svg class="abs" style="left:0;top:0" width="240" height="110" viewBox="0 0 240 110"><defs><linearGradient id="rg" gradientUnits="userSpaceOnUse" x1="0" y1="44" x2="0" y2="100"><stop offset="0" stop-color="rgb(255,88,88)"/><stop offset="1" stop-color="rgb(174,0,0)"/></linearGradient></defs><polygon points="71,53.2 77,53.2 74,56.6" fill="#4558c0"/><polygon points="160,56.4 166,56.4 163,53" fill="#4558c0"/><polygon points="9.5,35.5 16.5,35.5 13,31" fill="#000"/><g font-family="Liberation Sans, sans-serif" fill="#fff" stroke="url(#rg)" paint-order="fill stroke"><text x="57.3" y="95.6" font-size="34.5" stroke-width="0.75" textLength="33.5" lengthAdjust="spacing">35</text><text x="168.3" y="95.6" font-size="34.5" stroke-width="0.75" textLength="33.5" lengthAdjust="spacing">36</text><text x="21" y="60" font-size="12.3" stroke-width="0.15" textLength="26.5" lengthAdjust="spacingAndGlyphs">SELL</text><text x="189.3" y="60" font-size="12.3" stroke-width="0.15" textLength="23.5" lengthAdjust="spacingAndGlyphs">BUY</text></g><g font-family="Liberation Sans, sans-serif" fill="#fff" font-weight="bold"><text x="29" y="95.5" font-size="10.5" textLength="23.5" lengthAdjust="spacingAndGlyphs">0.74</text><text x="139" y="95.5" font-size="10.5" textLength="23.5" lengthAdjust="spacingAndGlyphs">0.74</text><text x="96.2" y="79.8" font-size="12" >3</text><text x="206.6" y="79.8" font-size="12" >6</text></g><text x="125.3" y="59" font-family="Liberation Sans, sans-serif" font-size="11.2" fill="#000" textLength="23.5" lengthAdjust="spacing">3.00</text></svg>
<span class="t" style="left:1174.00px;top:49px;font-size:10.20px;color:#000;letter-spacing:-0.610px;">0.79960</span>
<span class="t" style="left:1174.00px;top:82px;font-size:10.20px;color:#000;letter-spacing:-0.610px;">0.79260</span>
<span class="t" style="left:1174.00px;top:115px;font-size:10.20px;color:#000;letter-spacing:-0.610px;">0.78560</span>
<span class="t" style="left:1174.00px;top:148px;font-size:10.20px;color:#000;letter-spacing:-0.610px;">0.77860</span>
<span class="t" style="left:1174.00px;top:181px;font-size:10.20px;color:#000;letter-spacing:-0.610px;">0.77160</span>
<span class="t" style="left:1174.00px;top:214px;font-size:10.20px;color:#000;letter-spacing:-0.610px;">0.76460</span>
<span class="t" style="left:1174.00px;top:247px;font-size:10.20px;color:#000;letter-spacing:-0.610px;">0.75760</span>
<span class="t" style="left:1174.00px;top:280px;font-size:10.20px;color:#000;letter-spacing:-0.610px;">0.75060</span>
<span class="t" style="left:1174.00px;top:313px;font-size:10.20px;color:#000;letter-spacing:-0.610px;">0.74360</span>
<span class="t" style="left:1174.00px;top:346px;font-size:10.20px;color:#000;letter-spacing:-0.610px;">0.73660</span>
<span class="t" style="left:1174.00px;top:379px;font-size:10.20px;color:#000;letter-spacing:-0.610px;">0.72960</span>
<span class="t" style="left:1174.00px;top:412px;font-size:10.20px;color:#000;letter-spacing:-0.610px;">0.72280</span>
<span class="t" style="left:1174.00px;top:445px;font-size:10.20px;color:#000;letter-spacing:-0.610px;">0.71580</span>
<div class="abs" style="left:1170px;top:176px;width:40px;height:11px;background:#f00"></div>
<span class="t" style="left:1174.00px;top:178px;font-size:10.20px;color:#fff;letter-spacing:-0.610px;">0.77200</span>
<div class="abs" style="left:1170px;top:246px;width:40px;height:11px;background:#f00"></div>
<span class="t" style="left:1174.00px;top:248px;font-size:10.20px;color:#fff;letter-spacing:-0.610px;">0.75716</span>
<div class="abs" style="left:1170px;top:312px;width:40px;height:11px;background:#000"></div>
<span class="t" style="left:1174.00px;top:314px;font-size:10.20px;color:#fff;letter-spacing:-0.610px;">0.74350</span>
<div class="abs" style="left:1170px;top:327px;width:40px;height:11px;background:#0f0"></div>
<span class="t" style="left:1174.00px;top:329px;font-size:10.20px;color:#fff;letter-spacing:-0.610px;">0.74007</span>
<div class="abs" style="left:1170px;top:402px;width:40px;height:11px;background:#00f"></div>
<span class="t" style="left:1174.00px;top:404px;font-size:10.20px;color:#fff;letter-spacing:-0.502px;">0.72411</span>
<div class="abs" style="left:1170px;top:473px;width:40px;height:11px;background:#00f"></div>
<span class="t" style="left:1174.00px;top:475px;font-size:10.20px;color:#fff;letter-spacing:-0.610px;">0.70926</span>
<div class="abs" style="left:1170px;top:477px;width:40px;height:11px;background:#f00"></div>
<span class="t" style="left:1174.00px;top:479px;font-size:10.20px;color:#fff;letter-spacing:-0.610px;">0.70820</span>
<span class="t" style="left:1172.00px;top:490px;font-size:10.20px;color:#000;letter-spacing:-0.618px;">0.008904</span>
<span class="t" style="left:1172.00px;top:530px;font-size:10.20px;color:#000;letter-spacing:-0.513px;">0.00</span>
<span class="t" style="left:1172.00px;top:560px;font-size:10.20px;color:#000;letter-spacing:-0.593px;">-0.007013</span>
<span class="t" style="left:1172.00px;top:576px;font-size:10.20px;color:#000;letter-spacing:-0.739px;">100</span>
<span class="t" style="left:1171.00px;top:596px;font-size:10.20px;color:#000;letter-spacing:-0.723px;">70</span>
<span class="t" style="left:1171.00px;top:630px;font-size:10.20px;color:#000;letter-spacing:-0.723px;">30</span>
<span class="t" style="left:1172.00px;top:649px;font-size:10.20px;color:#000;">0</span>
<span class="t" style="left:5.40px;top:665px;font-size:10.20px;color:#000;letter-spacing:-0.549px;">10&nbsp;Dec&nbsp;2020</span>
<span class="t" style="left:69.40px;top:665px;font-size:10.20px;color:#000;letter-spacing:-0.549px;">30&nbsp;Dec&nbsp;2020</span>
<span class="t" style="left:133.40px;top:665px;font-size:10.20px;color:#000;letter-spacing:-0.632px;">19&nbsp;Jan&nbsp;2021</span>
<span class="t" style="left:197.40px;top:665px;font-size:10.20px;color:#000;letter-spacing:-0.601px;">6&nbsp;Feb&nbsp;2021</span>
<span class="t" style="left:261.40px;top:665px;font-size:10.20px;color:#000;letter-spacing:-0.544px;">25&nbsp;Feb&nbsp;2021</span>
<span class="t" style="left:325.40px;top:665px;font-size:10.20px;color:#000;letter-spacing:-0.543px;">16&nbsp;Mar&nbsp;2021</span>
<span class="t" style="left:389.40px;top:665px;font-size:10.20px;color:#000;letter-spacing:-0.414px;">3&nbsp;Apr&nbsp;2021</span>
<span class="t" style="left:453.40px;top:665px;font-size:10.20px;color:#000;letter-spacing:-0.456px;">22&nbsp;Apr&nbsp;2021</span>
<span class="t" style="left:517.40px;top:665px;font-size:10.20px;color:#000;letter-spacing:-0.429px;">11&nbsp;May&nbsp;2021</span>
<span class="t" style="left:581.40px;top:665px;font-size:10.20px;color:#000;letter-spacing:-0.479px;">29&nbsp;May&nbsp;2021</span>
<span class="t" style="left:645.40px;top:665px;font-size:10.20px;color:#000;letter-spacing:-0.714px;">17&nbsp;Jun&nbsp;2021</span>
<span class="t" style="left:709.40px;top:665px;font-size:10.20px;color:#000;letter-spacing:-0.607px;">6&nbsp;Jul&nbsp;2021</span>
<span class="t" style="left:773.40px;top:665px;font-size:10.20px;color:#000;letter-spacing:-0.631px;">24&nbsp;Jul&nbsp;2021</span>
<span class="t" style="left:837.40px;top:665px;font-size:10.20px;color:#000;letter-spacing:-0.536px;">12&nbsp;Aug&nbsp;2021</span>
<span class="t" style="left:901.40px;top:665px;font-size:10.20px;color:#000;letter-spacing:-0.545px;">31&nbsp;Aug&nbsp;2021</span>
<span class="t" style="left:10.30px;top:492px;font-size:10.20px;color:#000;letter-spacing:-0.497px;">MACD(12,26,9)</span>
<span class="t" style="left:78.70px;top:492px;font-size:10.20px;color:#000;letter-spacing:-0.530px;">0.002629</span>
<span class="t" style="left:122.30px;top:492px;font-size:10.20px;color:#000;letter-spacing:-0.816px;">-0.000358</span>
<span class="t" style="left:10.40px;top:578px;font-size:10.20px;color:#000;letter-spacing:-0.563px;">RSI(14)</span>
<span class="t" style="left:45.10px;top:578px;font-size:10.20px;color:#000;letter-spacing:-0.610px;">62.3692</span>
<span class="t" style="left:21.50px;top:29px;font-size:10.20px;color:#000;letter-spacing:-0.256px;">AUDUSD,Daily</span>
<span class="t" style="left:93.40px;top:29px;font-size:10.20px;color:#000;letter-spacing:-0.624px;">0.74343</span>
<span class="t" style="left:129.40px;top:29px;font-size:10.20px;color:#000;letter-spacing:-0.624px;">0.74389</span>
<span class="t" style="left:165.20px;top:29px;font-size:10.20px;color:#000;letter-spacing:-0.624px;">0.74341</span>
<span class="t" style="left:201.00px;top:29px;font-size:10.20px;color:#000;letter-spacing:-0.624px;">0.74350</span>
<span class="t" style="left:-4.50px;top:5px;font-size:9.70px;color:#3c3c3c;letter-spacing:0.355px;-webkit-text-stroke:0;">15</span>
<span class="t" style="left:18.00px;top:5px;font-size:9.70px;color:#3c3c3c;letter-spacing:-0.623px;-webkit-text-stroke:0;">M30</span>
<span class="t" style="left:48.50px;top:5px;font-size:9.70px;color:#3c3c3c;letter-spacing:-0.450px;-webkit-text-stroke:0;">H1</span>
<span class="t" style="left:75.70px;top:5px;font-size:9.70px;color:#3c3c3c;letter-spacing:-0.200px;-webkit-text-stroke:0;">H4</span>
<span class="t" style="left:104.60px;top:5px;font-size:9.70px;color:#3c3c3c;letter-spacing:-0.400px;-webkit-text-stroke:0;">D1</span>
<span class="t" style="left:132.00px;top:5px;font-size:9.70px;color:#3c3c3c;letter-spacing:-0.275px;-webkit-text-stroke:0;">W1</span>
<span class="t" style="left:158.70px;top:5px;font-size:9.70px;color:#3c3c3c;letter-spacing:-0.293px;-webkit-text-stroke:0;">MN</span>
<span class="t" style="left:19.70px;top:687px;font-size:12.40px;color:#7f7f7f;letter-spacing:-0.518px;-webkit-text-stroke:0;">EURUSD,H4</span>
<span class="t" style="left:110.30px;top:687px;font-size:12.40px;color:#000;letter-spacing:-0.114px;">AUDUSD,Daily</span>
<span class="t" style="left:213.60px;top:687px;font-size:12.40px;color:#7f7f7f;letter-spacing:-0.399px;-webkit-text-stroke:0;">USDCHF,H4</span>
<span class="t" style="left:302.60px;top:687px;font-size:12.40px;color:#7f7f7f;letter-spacing:-0.281px;-webkit-text-stroke:0;">USDCAD,Daily</span>
<span class="t" style="left:406.00px;top:687px;font-size:12.40px;color:#7f7f7f;letter-spacing:-0.171px;-webkit-text-stroke:0;">USDCNH,Daily</span>
<span class="t" style="left:512.00px;top:687px;font-size:12.40px;color:#7f7f7f;letter-spacing:-0.160px;-webkit-text-stroke:0;">UKOil,H1</span>
<span class="t" style="left:586.00px;top:687px;font-size:12.40px;color:#7f7f7f;letter-spacing:-0.378px;-webkit-text-stroke:0;">DJ30,H1</span>
<span class="t" style="left:655.60px;top:687px;font-size:12.40px;color:#7f7f7f;letter-spacing:-0.421px;-webkit-text-stroke:0;">USDX,H1</span>
<span class="t" style="left:730.00px;top:687px;font-size:12.40px;color:#7f7f7f;letter-spacing:-0.219px;-webkit-text-stroke:0;">XAUUSD,H4</span>
<span class="t" style="left:823.60px;top:687px;font-size:12.40px;color:#7f7f7f;letter-spacing:-0.540px;-webkit-text-stroke:0;">GBPUSD,H1</span>
<svg class="abs" style="left:0;top:486px" width="1168" height="85" viewBox="0 486 1168 85" shape-rendering="crispEdges"><path fill="#f00" d="M45 496h12v1h-12zM98 496h5v1h-5zM119 496h4v1h-4zM322 536h2v1h-2zM340 536h7v1h-7zM592 536h10v1h-10zM617 536h15v1h-15zM242 523h2v1h-2zM476 523h24v1h-24zM513 523h4v1h-4zM548 523h3v1h-3zM16 503h4v1h-4zM138 503h2v1h-2zM324 537h6v1h-6zM337 537h3v1h-3zM347 537h9v1h-9zM446 537h2v1h-2zM602 537h15v1h-15zM632 537h8v1h-8zM330 538h7v1h-7zM356 538h5v1h-5zM444 538h2v1h-2zM640 538h7v1h-7zM195 531h2v1h-2zM224 531h2v1h-2zM577 531h3v1h-3zM684 559h27v1h-27zM732 559h4v1h-4zM757 559h3v1h-3zM807 559h3v1h-3zM885 559h3v1h-3zM895 559h3v1h-3zM192 529h2v1h-2zM228 529h2v1h-2zM309 529h2v1h-2zM459 529h2v1h-2zM568 529h4v1h-4zM201 534h4v1h-4zM217 534h3v1h-3zM318 534h2v1h-2zM451 534h2v1h-2zM584 534h2v1h-2zM230 528h3v1h-3zM461 528h2v1h-2zM564 528h4v1h-4zM182 522h2v1h-2zM244 522h2v1h-2zM517 522h18v1h-18zM544 522h4v1h-4zM385 550h2v1h-2zM411 550h8v1h-8zM665 550h2v1h-2zM835 550h4v1h-4zM866 550h2v1h-2zM178 520h2v1h-2zM248 520h2v1h-2zM297 520h2v1h-2zM538 520h3v1h-3zM711 560h11v1h-11zM729 560h3v1h-3zM760 560h4v1h-4zM803 560h4v1h-4zM888 560h2v1h-2zM893 560h2v1h-2zM774 563h20v1h-20zM425 547h3v1h-3zM847 547h15v1h-15zM24 501h3v1h-3zM133 501h3v1h-3zM33 498h3v1h-3zM65 498h6v1h-6zM90 498h4v1h-4zM127 498h2v1h-2zM154 510h3v1h-3zM268 510h16v1h-16zM367 541h2v1h-2zM438 541h2v1h-2zM652 541h2v1h-2zM168 515h2v1h-2zM258 515h2v1h-2zM240 524h2v1h-2zM473 524h3v1h-3zM500 524h13v1h-13zM551 524h3v1h-3zM372 543h2v1h-2zM434 543h2v1h-2zM655 543h2v1h-2zM674 555h2v1h-2zM819 555h3v1h-3zM876 555h2v1h-2zM722 561h7v1h-7zM764 561h4v1h-4zM798 561h5v1h-5zM890 561h3v1h-3zM30 499h3v1h-3zM71 499h3v1h-3zM87 499h3v1h-3zM129 499h2v1h-2zM199 533h2v1h-2zM220 533h2v1h-2zM316 533h2v1h-2zM582 533h2v1h-2zM12 504h4v1h-4zM140 504h3v1h-3zM189 527h2v1h-2zM233 527h2v1h-2zM306 527h2v1h-2zM463 527h3v1h-3zM561 527h3v1h-3zM176 519h2v1h-2zM250 519h2v1h-2zM197 532h2v1h-2zM222 532h2v1h-2zM314 532h2v1h-2zM454 532h2v1h-2zM580 532h2v1h-2zM392 552h9v1h-9zM668 552h2v1h-2zM829 552h3v1h-3zM870 552h2v1h-2zM670 553h2v1h-2zM825 553h4v1h-4zM872 553h2v1h-2zM907 553h2v1h-2zM103 495h16v1h-16zM681 558h3v1h-3zM736 558h21v1h-21zM810 558h3v1h-3zM883 558h2v1h-2zM898 558h2v1h-2zM235 526h2v1h-2zM304 526h2v1h-2zM466 526h3v1h-3zM558 526h3v1h-3zM387 551h5v1h-5zM401 551h10v1h-10zM832 551h3v1h-3zM868 551h2v1h-2zM226 530h2v1h-2zM311 530h2v1h-2zM457 530h2v1h-2zM572 530h5v1h-5zM36 497h9v1h-9zM57 497h8v1h-8zM94 497h4v1h-4zM123 497h4v1h-4zM679 557h2v1h-2zM813 557h3v1h-3zM881 557h2v1h-2zM900 557h2v1h-2zM365 540h2v1h-2zM440 540h2v1h-2zM649 540h3v1h-3zM921 540h2v1h-2zM768 562h6v1h-6zM794 562h4v1h-4zM172 517h2v1h-2zM254 517h2v1h-2zM383 549h2v1h-2zM419 549h3v1h-3zM839 549h4v1h-4zM864 549h2v1h-2zM27 500h3v1h-3zM74 500h13v1h-13zM131 500h2v1h-2zM378 546h2v1h-2zM428 546h2v1h-2zM659 546h2v1h-2zM205 535h12v1h-12zM320 535h2v1h-2zM449 535h2v1h-2zM586 535h6v1h-6zM381 548h2v1h-2zM422 548h3v1h-3zM662 548h2v1h-2zM843 548h4v1h-4zM862 548h2v1h-2zM180 521h2v1h-2zM246 521h2v1h-2zM535 521h3v1h-3zM541 521h3v1h-3zM20 502h4v1h-4zM136 502h2v1h-2zM676 556h3v1h-3zM816 556h3v1h-3zM878 556h3v1h-3zM902 556h2v1h-2zM150 508h2v1h-2zM8 505h4v1h-4zM143 505h2v1h-2zM186 525h2v1h-2zM237 525h3v1h-3zM469 525h4v1h-4zM554 525h4v1h-4zM147 507h3v1h-3zM165 514h3v1h-3zM290 514h2v1h-2zM672 554h2v1h-2zM822 554h3v1h-3zM874 554h2v1h-2zM905 554h2v1h-2zM374 544h2v1h-2zM432 544h2v1h-2zM157 511h3v1h-3zM265 511h3v1h-3zM284 511h2v1h-2zM376 545h2v1h-2zM430 545h2v1h-2zM369 542h3v1h-3zM436 542h2v1h-2zM162 513h3v1h-3zM261 513h2v1h-2zM288 513h2v1h-2zM361 539h4v1h-4zM442 539h2v1h-2zM647 539h2v1h-2zM160 512h2v1h-2zM263 512h2v1h-2zM286 512h2v1h-2zM170 516h2v1h-2zM256 516h2v1h-2zM6 506h2v1h-2zM145 506h2v1h-2zM152 509h2v1h-2zM174 518h2v1h-2zM252 518h2v1h-2zM448 536h1v1h-1zM926 536h1v1h-1zM184 523h1v1h-1zM301 523h1v1h-1zM925 537h1v1h-1zM924 538h1v1h-1zM313 531h1v1h-1zM456 531h1v1h-1zM191 528h1v1h-1zM308 528h1v1h-1zM300 522h1v1h-1zM911 550h1v1h-1zM380 547h1v1h-1zM661 547h1v1h-1zM914 547h1v1h-1zM920 541h1v1h-1zM292 515h1v1h-1zM185 524h1v1h-1zM302 524h1v1h-1zM918 543h1v1h-1zM904 555h1v1h-1zM453 533h1v1h-1zM296 519h1v1h-1zM909 552h1v1h-1zM188 526h1v1h-1zM667 551h1v1h-1zM910 551h1v1h-1zM194 530h1v1h-1zM294 517h1v1h-1zM664 549h1v1h-1zM912 549h1v1h-1zM915 546h1v1h-1zM913 548h1v1h-1zM299 521h1v1h-1zM303 525h1v1h-1zM260 514h1v1h-1zM657 544h1v1h-1zM917 544h1v1h-1zM658 545h1v1h-1zM916 545h1v1h-1zM654 542h1v1h-1zM919 542h1v1h-1zM923 539h1v1h-1zM293 516h1v1h-1zM295 518h1v1h-1z"/></svg>
</body></html>
